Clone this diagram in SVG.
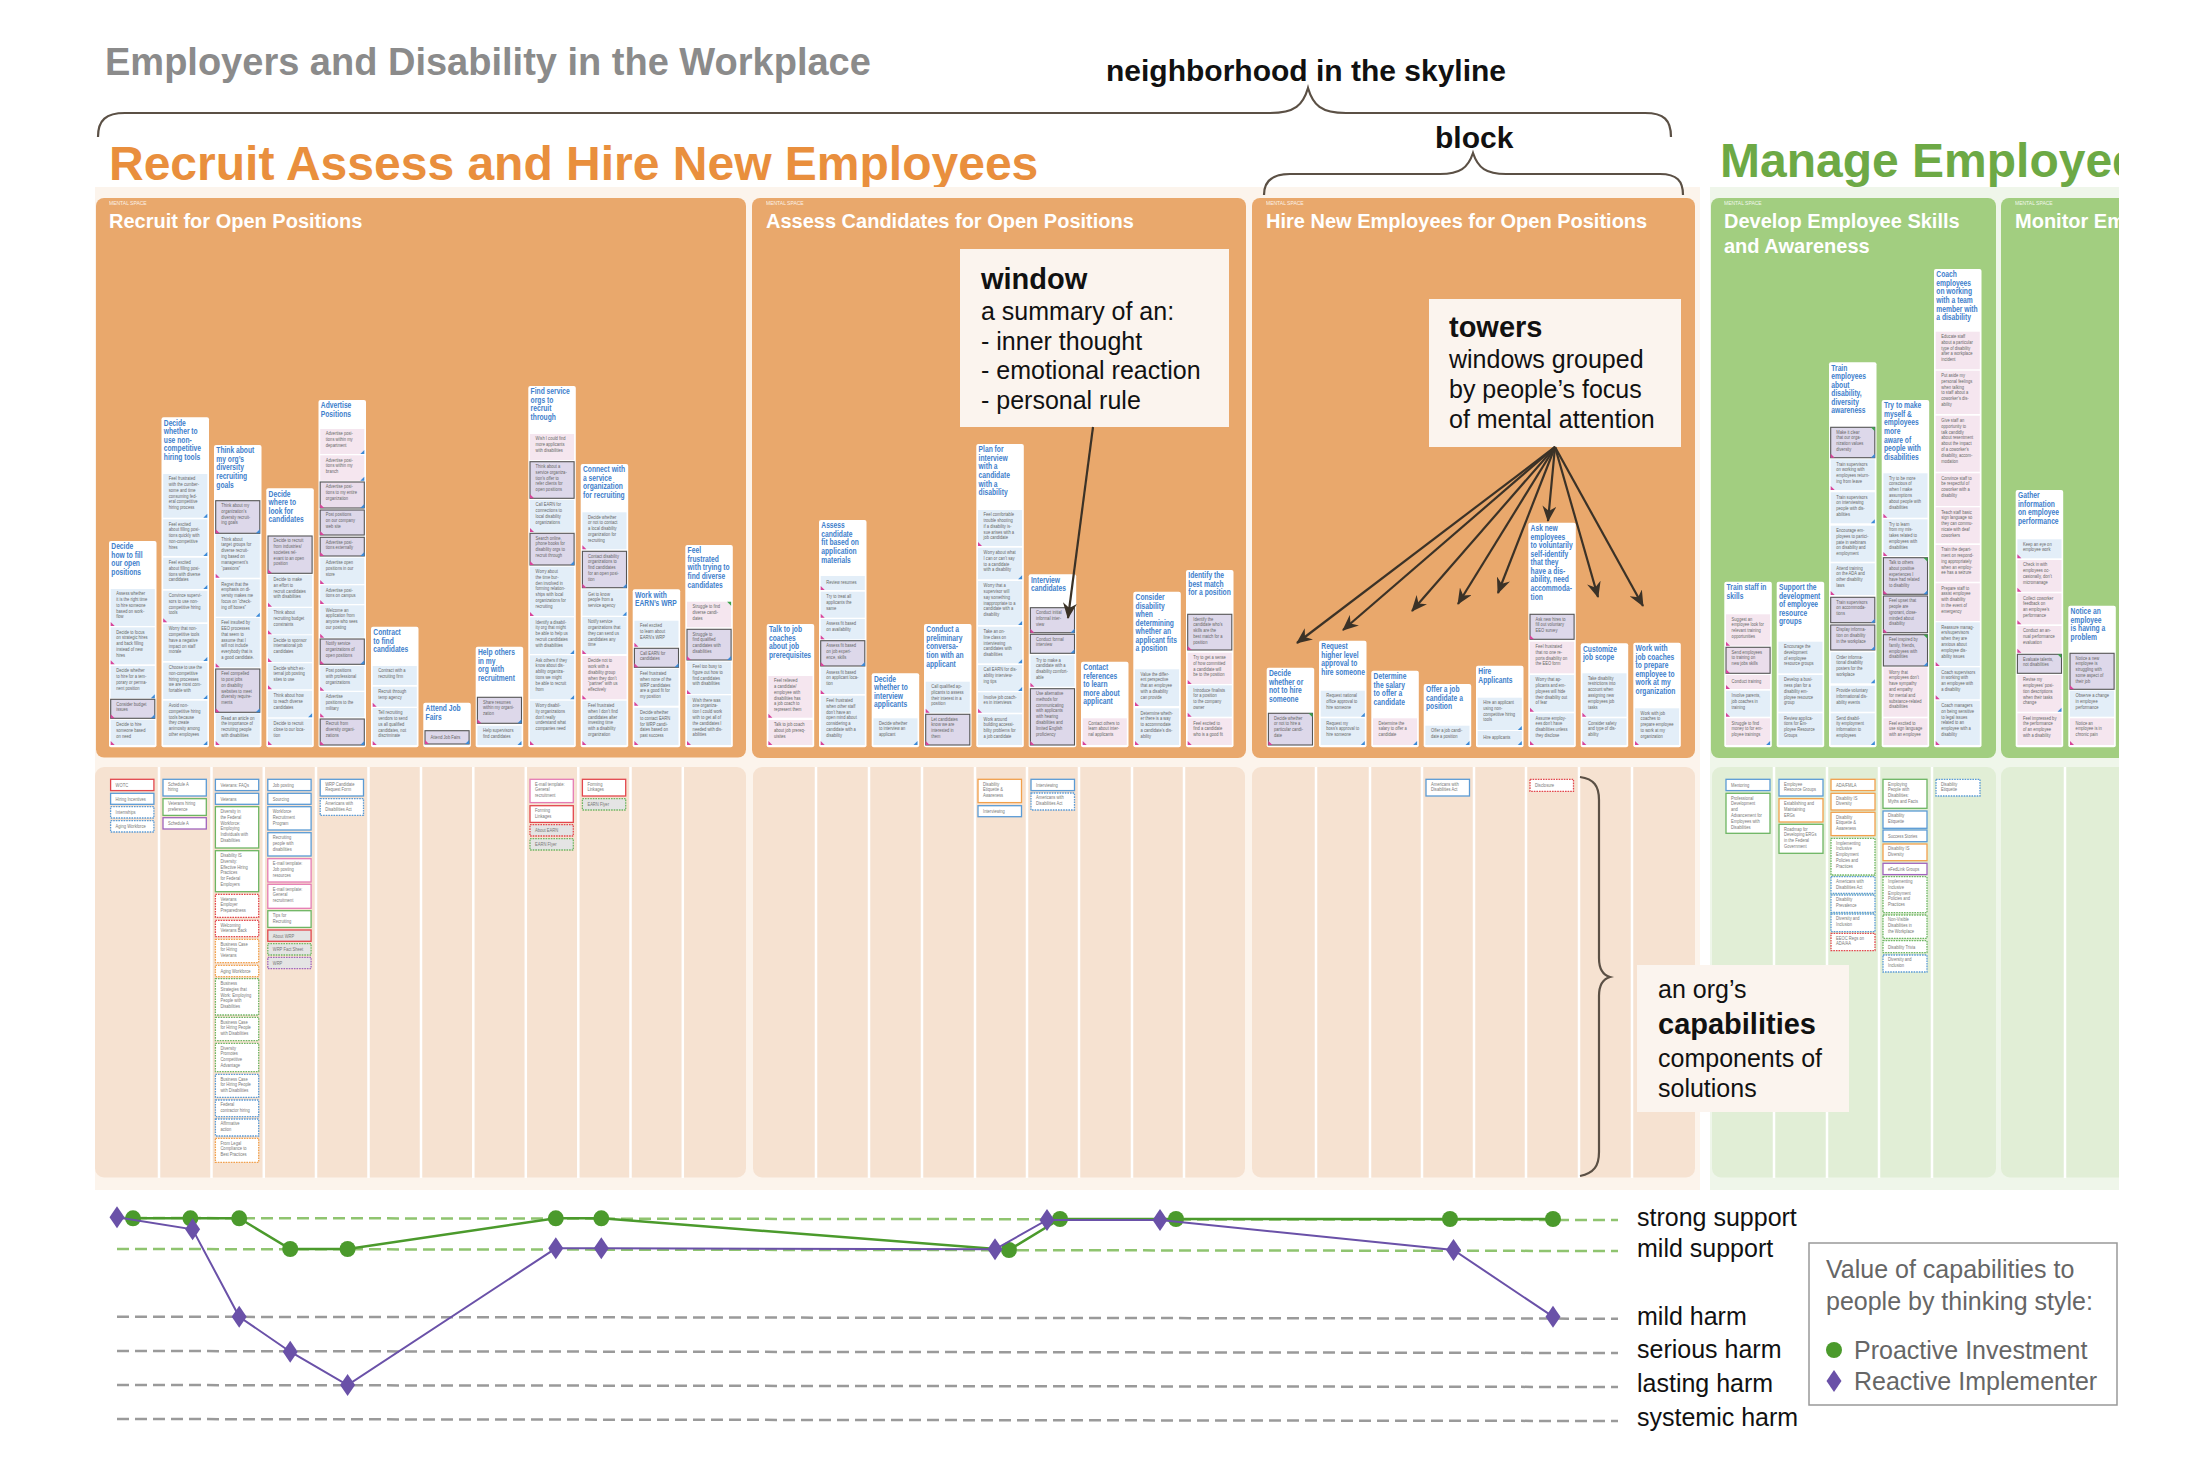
<svg xmlns="http://www.w3.org/2000/svg" xmlns:xlink="http://www.w3.org/1999/xlink" width="2194" height="1457" viewBox="0 0 2194 1457">
<style>
text{font-family:"Liberation Sans",Arial,sans-serif}
.ttl{font-weight:bold}
.ms{font-size:5px;fill:#fff;opacity:.85}
.mst{font-size:20px;font-weight:bold;fill:#fff}
.card{fill:#fff}
.th{font-size:8.6px;font-weight:bold;fill:#3E80CC}
.wt{font-size:5px;fill:#666}
.ct{font-size:5px;fill:#777}
.wb{fill:#E3EEF8}
.wp{fill:#F5E6EF}
.we{fill:#DDD8EA;stroke:#555;stroke-width:1.1}
.wep{fill:#EADDEB;stroke:#555;stroke-width:1.1}
.cb{fill:#fff;stroke-width:1.3}
.r{stroke:#E2474D}.b{stroke:#5B9BD5}.g{stroke:#6DB563}.pu{stroke:#A064BC}.o{stroke:#F1A04C}.pk{stroke:#E57CB4}
.d{stroke-dasharray:1.6 1}
.gr{fill:#E4E4E4}
.div{stroke:#fff;stroke-width:2.5}
.co{font-size:25px;fill:#111}
.cob{font-size:29px;font-weight:bold;fill:#111}
.lab{font-size:25px;fill:#111}
.leg{font-size:25px;fill:#666}
.arr{stroke:#3B3227;stroke-width:2.2;fill:none;marker-end:url(#ah)}
.brace{stroke:#5B5045;stroke-width:2.2;fill:none}
.gl{stroke:#8FC46F;stroke-width:2.5;stroke-dasharray:12 6;fill:none}
.hl{stroke:#9A9A9A;stroke-width:2.5;stroke-dasharray:12 6;fill:none}
</style>
<defs>
<clipPath id="clip"><rect x="0" y="0" width="2119" height="1457"/></clipPath>
<marker id="ah" viewBox="0 0 16 14" markerWidth="16" markerHeight="14" refX="15" refY="7" orient="auto" markerUnits="userSpaceOnUse"><path d="M0,0 L16,7 L0,14 L5,7 Z" fill="#3B3227"/></marker>
<path id="tp" d="M0,0 V-4 L4,0 Z" fill="#D8449B"/>
<path id="tb" d="M0,0 H-4 L0,-4 Z" fill="#3C8AD8"/>
<path id="tg" d="M0,0 H-4 L0,4 Z" fill="#3BA34A"/>
<path id="dm" d="M0,-11 L7.5,0 L0,11 L-7.5,0 Z" fill="#6A51A8"/>
</defs>
<rect width="2194" height="1457" fill="#fff"/>

<g id="header">
<text class="ttl" x="105" y="75" font-size="38" fill="#8B8B8B">Employers and Disability in the Workplace</text>
<text class="ttl" x="1106" y="81" font-size="30" fill="#111">neighborhood in the skyline</text>
<text class="ttl" x="1435" y="148" font-size="30" fill="#111">block</text>
<text class="ttl" x="109" y="180" font-size="48" fill="#E98F3D">Recruit Assess and Hire New Employees</text>
</g>

<g clip-path="url(#clip)">
<g id="backgrounds">
<rect x="95" y="187" width="1605" height="1003" fill="#FCF4EC"/>
<rect x="1710" y="187" width="430" height="1003" fill="#EFF6EA"/>
<rect x="96" y="198" width="650" height="559.5" rx="8" fill="#E9A86C"/>
<rect x="752" y="198" width="494" height="560" rx="8" fill="#E9A86C"/>
<rect x="1252" y="198" width="443" height="560" rx="8" fill="#E9A86C"/>
<rect x="1711" y="198" width="285" height="560" rx="8" fill="#A2CE80"/>
<rect x="2001" y="198" width="140" height="560" rx="8" fill="#A2CE80"/>
<rect x="95" y="767" width="651" height="410.5" rx="9" fill="#F6E2D1"/>
<rect x="753" y="767" width="492" height="410.5" rx="9" fill="#F6E2D1"/>
<rect x="1252" y="767" width="443" height="410.5" rx="9" fill="#F6E2D1"/>
<rect x="1712" y="767" width="284" height="410.5" rx="9" fill="#E1EED6"/>
<rect x="2001" y="767" width="140" height="410.5" rx="9" fill="#E1EED6"/>
<path class="div" d="M159,767V1178M211.5,767V1178M263.8,767V1178M316,767V1178M368.5,767V1178M421,767V1178M473.3,767V1178M525.8,767V1178M578.3,767V1178M630.5,767V1178M682.8,767V1178M816,767V1178M869,767V1178M922,767V1178M975,767V1178M1027,767V1178M1079,767V1178M1132,767V1178M1184,767V1178M1316,767V1178M1370,767V1178M1422,767V1178M1474,767V1178M1526,767V1178M1579,767V1178M1632,767V1178M1774,767V1178M1827,767V1178M1879,767V1178M1932,767V1178M2065,767V1178"/>
<text class="ttl" x="1720" y="177" font-size="48" fill="#6DA945">Manage Employees</text>
</g>

<g id="mental-space-titles">
<text class="ms" x="109" y="205">MENTAL SPACE</text>
<text class="mst" x="109" y="228">Recruit for Open Positions</text>
<text class="ms" x="766" y="205">MENTAL SPACE</text>
<text class="mst" x="766" y="228">Assess Candidates for Open Positions</text>
<text class="ms" x="1266" y="205">MENTAL SPACE</text>
<text class="mst" x="1266" y="228">Hire New Employees for Open Positions</text>
<text class="ms" x="1724" y="205">MENTAL SPACE</text>
<text class="mst" x="1724" y="228">Develop Employee Skills</text>
<text class="mst" x="1724" y="253">and Awareness</text>
<text class="ms" x="2015" y="205">MENTAL SPACE</text>
<text class="mst" x="2015" y="228">Monitor Employee</text>
</g>

<!-- RECRUIT TOWERS -->
<g id="tower-r01">
<rect class="card" x="109" y="541" width="47.5" height="206.3" rx="2"/>
<text class="th" transform="translate(111.3,549.3) scale(.78,1)"><tspan x="0">Decide</tspan><tspan x="0" dy="8.57">how to fill</tspan><tspan x="0" dy="8.57">our open</tspan><tspan x="0" dy="8.57">positions</tspan></text>
<rect class="wb" x="110.7" y="589" width="44.1" height="37"/><text class="wt" transform="translate(116.3,595.3) scale(.82,1)"><tspan x="0">Assess whether</tspan><tspan x="0" dy="5.8">it is the right time</tspan><tspan x="0" dy="5.8">to hire someone</tspan><tspan x="0" dy="5.8">based on work-</tspan><tspan x="0" dy="5.8">flow</tspan></text><use href="#tp" x="110.7" y="626"/>
<rect class="wb" x="110.7" y="627.3" width="44.1" height="37"/><text class="wt" transform="translate(116.3,633.6) scale(.82,1)"><tspan x="0">Decide to focus</tspan><tspan x="0" dy="5.8">on strategic hires</tspan><tspan x="0" dy="5.8">and back filling</tspan><tspan x="0" dy="5.8">instead of new</tspan><tspan x="0" dy="5.8">hires</tspan></text><use href="#tp" x="110.7" y="664.3"/>
<rect class="wb" x="110.7" y="666" width="44.1" height="32.3"/><text class="wt" transform="translate(116.3,672.3) scale(.82,1)"><tspan x="0">Decide whether</tspan><tspan x="0" dy="5.8">to hire for a tem-</tspan><tspan x="0" dy="5.8">porary or perma-</tspan><tspan x="0" dy="5.8">nent position</tspan></text><use href="#tb" x="154.8" y="698.3"/>
<rect class="we" x="110.7" y="699.3" width="44.1" height="19"/><text class="wt" transform="translate(116.3,705.6) scale(.82,1)"><tspan x="0">Consider budget</tspan><tspan x="0" dy="5.8">issues</tspan></text><use href="#tp" x="110.7" y="718.3"/><use href="#tb" x="154.8" y="718.3"/>
<rect class="wb" x="110.7" y="720" width="44.1" height="25"/><text class="wt" transform="translate(116.3,726.3) scale(.82,1)"><tspan x="0">Decide to hire</tspan><tspan x="0" dy="5.8">someone based</tspan><tspan x="0" dy="5.8">on need</tspan></text><use href="#tp" x="110.7" y="745"/>
</g>

<g id="tower-r02">
<rect class="card" x="161.5" y="417.3" width="47.5" height="330" rx="2"/>
<text class="th" transform="translate(163.8,425.6) scale(.78,1)"><tspan x="0">Decide</tspan><tspan x="0" dy="8.57">whether to</tspan><tspan x="0" dy="8.57">use non-</tspan><tspan x="0" dy="8.57">competitive</tspan><tspan x="0" dy="8.57">hiring tools</tspan></text>
<rect class="wb" x="163.2" y="474" width="44.1" height="43.7"/><text class="wt" transform="translate(168.8,480.3) scale(.82,1)"><tspan x="0">Feel frustrated</tspan><tspan x="0" dy="5.8">with the cumber-</tspan><tspan x="0" dy="5.8">some and time</tspan><tspan x="0" dy="5.8">consuming fed-</tspan><tspan x="0" dy="5.8">eral competitive</tspan><tspan x="0" dy="5.8">hiring process</tspan></text><use href="#tb" x="207.3" y="517.7"/>
<rect class="wb" x="163.2" y="519.3" width="44.1" height="36.7"/><text class="wt" transform="translate(168.8,525.6) scale(.82,1)"><tspan x="0">Feel excited</tspan><tspan x="0" dy="5.8">about filling posi-</tspan><tspan x="0" dy="5.8">tions quickly with</tspan><tspan x="0" dy="5.8">non-competitive</tspan><tspan x="0" dy="5.8">hires</tspan></text><use href="#tb" x="207.3" y="556"/>
<rect class="wb" x="163.2" y="557.7" width="44.1" height="31.3"/><text class="wt" transform="translate(168.8,564) scale(.82,1)"><tspan x="0">Feel excited</tspan><tspan x="0" dy="5.8">about filling posi-</tspan><tspan x="0" dy="5.8">tions with diverse</tspan><tspan x="0" dy="5.8">candidates</tspan></text><use href="#tb" x="207.3" y="589"/>
<rect class="wb" x="163.2" y="590.7" width="44.1" height="31.6"/><text class="wt" transform="translate(168.8,597) scale(.82,1)"><tspan x="0">Convince supervi-</tspan><tspan x="0" dy="5.8">sors to use non-</tspan><tspan x="0" dy="5.8">competitive hiring</tspan><tspan x="0" dy="5.8">tools</tspan></text><use href="#tp" x="163.2" y="622.3"/>
<rect class="wb" x="163.2" y="624" width="44.1" height="37"/><text class="wt" transform="translate(168.8,630.3) scale(.82,1)"><tspan x="0">Worry that non-</tspan><tspan x="0" dy="5.8">competitive tools</tspan><tspan x="0" dy="5.8">have a negative</tspan><tspan x="0" dy="5.8">impact on staff</tspan><tspan x="0" dy="5.8">morale</tspan></text><use href="#tb" x="207.3" y="661"/>
<rect class="wb" x="163.2" y="662.7" width="44.1" height="36.3"/><text class="wt" transform="translate(168.8,669) scale(.82,1)"><tspan x="0">Choose to use the</tspan><tspan x="0" dy="5.8">non-competitive</tspan><tspan x="0" dy="5.8">hiring processes</tspan><tspan x="0" dy="5.8">we are most com-</tspan><tspan x="0" dy="5.8">fortable with</tspan></text><use href="#tb" x="207.3" y="699"/>
<rect class="wb" x="163.2" y="700.7" width="44.1" height="44.3"/><text class="wt" transform="translate(168.8,707) scale(.82,1)"><tspan x="0">Avoid non-</tspan><tspan x="0" dy="5.8">competitive hiring</tspan><tspan x="0" dy="5.8">tools because</tspan><tspan x="0" dy="5.8">they create</tspan><tspan x="0" dy="5.8">animosity among</tspan><tspan x="0" dy="5.8">other employees</tspan></text><use href="#tb" x="207.3" y="745"/>
</g>

<g id="tower-r03">
<rect class="card" x="214" y="445" width="47.5" height="302.3" rx="2"/>
<text class="th" transform="translate(216.3,453.3) scale(.78,1)"><tspan x="0">Think about</tspan><tspan x="0" dy="8.57">my org’s</tspan><tspan x="0" dy="8.57">diversity</tspan><tspan x="0" dy="8.57">recruiting</tspan><tspan x="0" dy="8.57">goals</tspan></text>
<rect class="we" x="215.7" y="500.7" width="44.1" height="32.6"/><text class="wt" transform="translate(221.3,507) scale(.82,1)"><tspan x="0">Think about my</tspan><tspan x="0" dy="5.8">organization’s</tspan><tspan x="0" dy="5.8">diversity recruit-</tspan><tspan x="0" dy="5.8">ing goals</tspan></text><use href="#tp" x="215.7" y="533.3"/><use href="#tb" x="259.8" y="533.3"/>
<rect class="wb" x="215.7" y="534.3" width="44.1" height="43.4"/><text class="wt" transform="translate(221.3,540.6) scale(.82,1)"><tspan x="0">Think about</tspan><tspan x="0" dy="5.8">target groups for</tspan><tspan x="0" dy="5.8">diverse recruit-</tspan><tspan x="0" dy="5.8">ing based on</tspan><tspan x="0" dy="5.8">management’s</tspan><tspan x="0" dy="5.8">“passions”</tspan></text><use href="#tp" x="215.7" y="577.7"/>
<rect class="wb" x="215.7" y="579.3" width="44.1" height="37.4"/><text class="wt" transform="translate(221.3,585.6) scale(.82,1)"><tspan x="0">Regret that the</tspan><tspan x="0" dy="5.8">emphasis on di-</tspan><tspan x="0" dy="5.8">versity makes me</tspan><tspan x="0" dy="5.8">focus on “check-</tspan><tspan x="0" dy="5.8">ing off boxes”</tspan></text><use href="#tb" x="259.8" y="616.7"/>
<rect class="wb" x="215.7" y="618" width="44.1" height="49.3"/><text class="wt" transform="translate(221.3,624.3) scale(.82,1)"><tspan x="0">Feel insulted by</tspan><tspan x="0" dy="5.8">EEO processes</tspan><tspan x="0" dy="5.8">that seem to</tspan><tspan x="0" dy="5.8">assume that I</tspan><tspan x="0" dy="5.8">will not include</tspan><tspan x="0" dy="5.8">everybody that is</tspan><tspan x="0" dy="5.8">a good candidate.</tspan></text><use href="#tp" x="215.7" y="667.3"/>
<rect class="we" x="215.7" y="669" width="44.1" height="43.3"/><text class="wt" transform="translate(221.3,675.3) scale(.82,1)"><tspan x="0">Feel compelled</tspan><tspan x="0" dy="5.8">to post jobs</tspan><tspan x="0" dy="5.8">on disability</tspan><tspan x="0" dy="5.8">websites to meet</tspan><tspan x="0" dy="5.8">diversity require-</tspan><tspan x="0" dy="5.8">ments</tspan></text><use href="#tp" x="215.7" y="712.3"/><use href="#tb" x="259.8" y="712.3"/>
<rect class="wb" x="215.7" y="713.3" width="44.1" height="31.7"/><text class="wt" transform="translate(221.3,719.6) scale(.82,1)"><tspan x="0">Read an article on</tspan><tspan x="0" dy="5.8">the importance of</tspan><tspan x="0" dy="5.8">recruiting people</tspan><tspan x="0" dy="5.8">with disabilities</tspan></text><use href="#tp" x="215.7" y="745"/>
</g>

<g id="tower-r04">
<rect class="card" x="266.3" y="488.3" width="47.5" height="259" rx="2"/>
<text class="th" transform="translate(268.6,496.6) scale(.78,1)"><tspan x="0">Decide</tspan><tspan x="0" dy="8.57">where to</tspan><tspan x="0" dy="8.57">look for</tspan><tspan x="0" dy="8.57">candidates</tspan></text>
<rect class="we" x="268" y="536" width="44.1" height="37.3"/><text class="wt" transform="translate(273.6,542.3) scale(.82,1)"><tspan x="0">Decide to recruit</tspan><tspan x="0" dy="5.8">from industries/</tspan><tspan x="0" dy="5.8">societies rel-</tspan><tspan x="0" dy="5.8">evant to an open</tspan><tspan x="0" dy="5.8">position</tspan></text><use href="#tp" x="268" y="573.3"/>
<rect class="wb" x="268" y="574.7" width="44.1" height="32"/><text class="wt" transform="translate(273.6,581) scale(.82,1)"><tspan x="0">Decide to make</tspan><tspan x="0" dy="5.8">an effort to</tspan><tspan x="0" dy="5.8">recruit candidates</tspan><tspan x="0" dy="5.8">with disabilities</tspan></text><use href="#tp" x="268" y="606.7"/>
<rect class="wb" x="268" y="608" width="44.1" height="26.3"/><text class="wt" transform="translate(273.6,614.3) scale(.82,1)"><tspan x="0">Think about</tspan><tspan x="0" dy="5.8">recruiting budget</tspan><tspan x="0" dy="5.8">constraints</tspan></text><use href="#tp" x="268" y="634.3"/>
<rect class="wb" x="268" y="635.3" width="44.1" height="26.7"/><text class="wt" transform="translate(273.6,641.6) scale(.82,1)"><tspan x="0">Decide to sponsor</tspan><tspan x="0" dy="5.8">international job</tspan><tspan x="0" dy="5.8">candidates</tspan></text><use href="#tp" x="268" y="662"/>
<rect class="wb" x="268" y="663.3" width="44.1" height="26"/><text class="wt" transform="translate(273.6,669.6) scale(.82,1)"><tspan x="0">Decide which ex-</tspan><tspan x="0" dy="5.8">ternal job posting</tspan><tspan x="0" dy="5.8">sites to use</tspan></text><use href="#tp" x="268" y="689.3"/>
<rect class="wb" x="268" y="690.7" width="44.1" height="26.6"/><text class="wt" transform="translate(273.6,697) scale(.82,1)"><tspan x="0">Think about how</tspan><tspan x="0" dy="5.8">to reach diverse</tspan><tspan x="0" dy="5.8">candidates</tspan></text><use href="#tb" x="312.1" y="717.3"/>
<rect class="wb" x="268" y="718.7" width="44.1" height="26.3"/><text class="wt" transform="translate(273.6,725) scale(.82,1)"><tspan x="0">Decide to recruit</tspan><tspan x="0" dy="5.8">close to our loca-</tspan><tspan x="0" dy="5.8">tion</tspan></text><use href="#tp" x="268" y="745"/>
</g>

<g id="tower-r05">
<rect class="card" x="318.5" y="400" width="47.5" height="347.3" rx="2"/>
<text class="th" transform="translate(320.8,408.3) scale(.78,1)"><tspan x="0">Advertise</tspan><tspan x="0" dy="8.57">Positions</tspan></text>
<rect class="wp" x="320.2" y="429" width="44.1" height="25"/><text class="wt" transform="translate(325.8,435.3) scale(.82,1)"><tspan x="0">Advertise posi-</tspan><tspan x="0" dy="5.8">tions within my</tspan><tspan x="0" dy="5.8">department</tspan></text><use href="#tb" x="364.3" y="454"/>
<rect class="wp" x="320.2" y="455.3" width="44.1" height="25.4"/><text class="wt" transform="translate(325.8,461.6) scale(.82,1)"><tspan x="0">Advertise posi-</tspan><tspan x="0" dy="5.8">tions within my</tspan><tspan x="0" dy="5.8">branch</tspan></text><use href="#tb" x="364.3" y="480.7"/>
<rect class="wep" x="320.2" y="482" width="44.1" height="26"/><text class="wt" transform="translate(325.8,488.3) scale(.82,1)"><tspan x="0">Advertise posi-</tspan><tspan x="0" dy="5.8">tions to my entire</tspan><tspan x="0" dy="5.8">organization</tspan></text><use href="#tp" x="320.2" y="508"/><use href="#tb" x="364.3" y="508"/>
<rect class="we" x="320.2" y="510" width="44.1" height="25"/><text class="wt" transform="translate(325.8,516.3) scale(.82,1)"><tspan x="0">Post positions</tspan><tspan x="0" dy="5.8">on our company</tspan><tspan x="0" dy="5.8">web site</tspan></text><use href="#tp" x="320.2" y="535"/>
<rect class="we" x="320.2" y="537.3" width="44.1" height="18.7"/><text class="wt" transform="translate(325.8,543.6) scale(.82,1)"><tspan x="0">Advertise posi-</tspan><tspan x="0" dy="5.8">tions externally</tspan></text><use href="#tp" x="320.2" y="556"/><use href="#tb" x="364.3" y="556"/>
<rect class="wb" x="320.2" y="557.7" width="44.1" height="26.3"/><text class="wt" transform="translate(325.8,564) scale(.82,1)"><tspan x="0">Advertise open</tspan><tspan x="0" dy="5.8">positions in our</tspan><tspan x="0" dy="5.8">store</tspan></text><use href="#tp" x="320.2" y="584"/>
<rect class="wb" x="320.2" y="585.3" width="44.1" height="18.7"/><text class="wt" transform="translate(325.8,591.6) scale(.82,1)"><tspan x="0">Advertise posi-</tspan><tspan x="0" dy="5.8">tions on campus</tspan></text><use href="#tp" x="320.2" y="604"/>
<rect class="wb" x="320.2" y="605.3" width="44.1" height="32.4"/><text class="wt" transform="translate(325.8,611.6) scale(.82,1)"><tspan x="0">Welcome an</tspan><tspan x="0" dy="5.8">application from</tspan><tspan x="0" dy="5.8">anyone who sees</tspan><tspan x="0" dy="5.8">our posting</tspan></text><use href="#tp" x="320.2" y="637.7"/>
<rect class="we" x="320.2" y="639" width="44.1" height="25.3"/><text class="wt" transform="translate(325.8,645.3) scale(.82,1)"><tspan x="0">Notify service</tspan><tspan x="0" dy="5.8">organizations of</tspan><tspan x="0" dy="5.8">open positions</tspan></text><use href="#tp" x="320.2" y="664.3"/><use href="#tb" x="364.3" y="664.3"/>
<rect class="wb" x="320.2" y="666" width="44.1" height="24.7"/><text class="wt" transform="translate(325.8,672.3) scale(.82,1)"><tspan x="0">Post positions</tspan><tspan x="0" dy="5.8">with professional</tspan><tspan x="0" dy="5.8">organizations</tspan></text><use href="#tp" x="320.2" y="690.7"/>
<rect class="wb" x="320.2" y="692" width="44.1" height="25.3"/><text class="wt" transform="translate(325.8,698.3) scale(.82,1)"><tspan x="0">Advertise</tspan><tspan x="0" dy="5.8">positions to the</tspan><tspan x="0" dy="5.8">military</tspan></text><use href="#tp" x="320.2" y="717.3"/>
<rect class="we" x="320.2" y="719" width="44.1" height="26"/><text class="wt" transform="translate(325.8,725.3) scale(.82,1)"><tspan x="0">Recruit from</tspan><tspan x="0" dy="5.8">diversity organi-</tspan><tspan x="0" dy="5.8">zations</tspan></text><use href="#tp" x="320.2" y="745"/><use href="#tb" x="364.3" y="745"/>
</g>

<g id="tower-r06">
<rect class="card" x="371" y="626.7" width="47.5" height="120.6" rx="2"/>
<text class="th" transform="translate(373.3,635) scale(.78,1)"><tspan x="0">Contract</tspan><tspan x="0" dy="8.57">to find</tspan><tspan x="0" dy="8.57">candidates</tspan></text>
<rect class="wb" x="372.7" y="666" width="44.1" height="19"/><text class="wt" transform="translate(378.3,672.3) scale(.82,1)"><tspan x="0">Contract with a</tspan><tspan x="0" dy="5.8">recruiting firm</tspan></text>
<rect class="wb" x="372.7" y="686.7" width="44.1" height="20"/><text class="wt" transform="translate(378.3,693) scale(.82,1)"><tspan x="0">Recruit through</tspan><tspan x="0" dy="5.8">temp agency</tspan></text><use href="#tp" x="372.7" y="706.7"/>
<rect class="wb" x="372.7" y="708" width="44.1" height="37"/><text class="wt" transform="translate(378.3,714.3) scale(.82,1)"><tspan x="0">Tell recruiting</tspan><tspan x="0" dy="5.8">vendors to send</tspan><tspan x="0" dy="5.8">us all qualified</tspan><tspan x="0" dy="5.8">candidates, not</tspan><tspan x="0" dy="5.8">discriminate</tspan></text><use href="#tp" x="372.7" y="745"/>
</g>

<g id="tower-r07">
<rect class="card" x="423.3" y="702.7" width="47.5" height="44.6" rx="2"/>
<text class="th" transform="translate(425.6,711) scale(.78,1)"><tspan x="0">Attend Job</tspan><tspan x="0" dy="8.57">Fairs</tspan></text>
<rect class="we" x="425" y="730.7" width="44.1" height="13.3"/><text class="wt" transform="translate(430.6,738.8) scale(.82,1)">Attend Job Fairs</text><use href="#tp" x="425" y="744"/><use href="#tb" x="469.1" y="744"/>
</g>

<g id="tower-r08">
<rect class="card" x="475.7" y="646.7" width="47.5" height="100.6" rx="2"/>
<text class="th" transform="translate(478,655) scale(.78,1)"><tspan x="0">Help others</tspan><tspan x="0" dy="8.57">in my</tspan><tspan x="0" dy="8.57">org with</tspan><tspan x="0" dy="8.57">recruitment</tspan></text>
<rect class="we" x="477.4" y="697.3" width="44.1" height="26"/><text class="wt" transform="translate(483,703.6) scale(.82,1)"><tspan x="0">Share resumes</tspan><tspan x="0" dy="5.8">within my organi-</tspan><tspan x="0" dy="5.8">zation</tspan></text><use href="#tp" x="477.4" y="723.3"/><use href="#tb" x="521.5" y="723.3"/>
<rect class="wb" x="477.4" y="725.7" width="44.1" height="19.3"/><text class="wt" transform="translate(483,732) scale(.82,1)"><tspan x="0">Help supervisors</tspan><tspan x="0" dy="5.8">find candidates</tspan></text><use href="#tb" x="521.5" y="745"/>
</g>

<g id="tower-r09">
<rect class="card" x="528.3" y="386" width="47.5" height="361.3" rx="2"/>
<text class="th" transform="translate(530.6,394.3) scale(.78,1)"><tspan x="0">Find service</tspan><tspan x="0" dy="8.57">orgs to</tspan><tspan x="0" dy="8.57">recruit</tspan><tspan x="0" dy="8.57">through</tspan></text>
<rect class="wp" x="530" y="434" width="44.1" height="26"/><text class="wt" transform="translate(535.6,440.3) scale(.82,1)"><tspan x="0">Wish I could find</tspan><tspan x="0" dy="5.8">more applicants</tspan><tspan x="0" dy="5.8">with disabilities</tspan></text>
<rect class="we" x="530" y="461.7" width="44.1" height="36.6"/><text class="wt" transform="translate(535.6,468) scale(.82,1)"><tspan x="0">Think about a</tspan><tspan x="0" dy="5.8">service organiza-</tspan><tspan x="0" dy="5.8">tion’s offer to</tspan><tspan x="0" dy="5.8">refer clients for</tspan><tspan x="0" dy="5.8">open positions</tspan></text><use href="#tp" x="530" y="498.3"/>
<rect class="wb" x="530" y="500" width="44.1" height="32"/><text class="wt" transform="translate(535.6,506.3) scale(.82,1)"><tspan x="0">Call EARN for</tspan><tspan x="0" dy="5.8">connections to</tspan><tspan x="0" dy="5.8">local disability</tspan><tspan x="0" dy="5.8">organizations</tspan></text><use href="#tp" x="530" y="532"/>
<rect class="we" x="530" y="533.3" width="44.1" height="31.7"/><text class="wt" transform="translate(535.6,539.6) scale(.82,1)"><tspan x="0">Search online,</tspan><tspan x="0" dy="5.8">phone books for</tspan><tspan x="0" dy="5.8">disability orgs to</tspan><tspan x="0" dy="5.8">recruit through</tspan></text><use href="#tp" x="530" y="565"/><use href="#tb" x="574.1" y="565"/>
<rect class="wb" x="530" y="566.7" width="44.1" height="49.3"/><text class="wt" transform="translate(535.6,573) scale(.82,1)"><tspan x="0">Worry about</tspan><tspan x="0" dy="5.8">the time bur-</tspan><tspan x="0" dy="5.8">den involved in</tspan><tspan x="0" dy="5.8">forming relation-</tspan><tspan x="0" dy="5.8">ships with local</tspan><tspan x="0" dy="5.8">organizations for</tspan><tspan x="0" dy="5.8">recruiting</tspan></text><use href="#tp" x="530" y="616"/>
<rect class="wb" x="530" y="617.3" width="44.1" height="36.7"/><text class="wt" transform="translate(535.6,623.6) scale(.82,1)"><tspan x="0">Identify a disabil-</tspan><tspan x="0" dy="5.8">ity org that might</tspan><tspan x="0" dy="5.8">be able to help us</tspan><tspan x="0" dy="5.8">recruit candidates</tspan><tspan x="0" dy="5.8">with disabilities</tspan></text><use href="#tb" x="574.1" y="654"/>
<rect class="wb" x="530" y="655.3" width="44.1" height="44"/><text class="wt" transform="translate(535.6,661.6) scale(.82,1)"><tspan x="0">Ask others if they</tspan><tspan x="0" dy="5.8">know about dis-</tspan><tspan x="0" dy="5.8">ability organiza-</tspan><tspan x="0" dy="5.8">tions we might</tspan><tspan x="0" dy="5.8">be able to recruit</tspan><tspan x="0" dy="5.8">from</tspan></text><use href="#tb" x="574.1" y="699.3"/>
<rect class="wb" x="530" y="700.7" width="44.1" height="44.3"/><text class="wt" transform="translate(535.6,707) scale(.82,1)"><tspan x="0">Worry disabil-</tspan><tspan x="0" dy="5.8">ity organizations</tspan><tspan x="0" dy="5.8">don’t really</tspan><tspan x="0" dy="5.8">understand what</tspan><tspan x="0" dy="5.8">companies need</tspan></text><use href="#tp" x="530" y="745"/>
</g>

<g id="tower-r10">
<rect class="card" x="580.7" y="464" width="47.5" height="283.3" rx="2"/>
<text class="th" transform="translate(583,472.3) scale(.78,1)"><tspan x="0">Connect with</tspan><tspan x="0" dy="8.57">a service</tspan><tspan x="0" dy="8.57">organization</tspan><tspan x="0" dy="8.57">for recruiting</tspan></text>
<rect class="wb" x="582.4" y="512.3" width="44.1" height="37"/><text class="wt" transform="translate(588,518.6) scale(.82,1)"><tspan x="0">Decide whether</tspan><tspan x="0" dy="5.8">or not to contact</tspan><tspan x="0" dy="5.8">a local disability</tspan><tspan x="0" dy="5.8">organization for</tspan><tspan x="0" dy="5.8">recruiting</tspan></text><use href="#tp" x="582.4" y="549.3"/>
<rect class="we" x="582.4" y="551.3" width="44.1" height="36.4"/><text class="wt" transform="translate(588,557.6) scale(.82,1)"><tspan x="0">Contact disability</tspan><tspan x="0" dy="5.8">organizations to</tspan><tspan x="0" dy="5.8">find candidates</tspan><tspan x="0" dy="5.8">for an open posi-</tspan><tspan x="0" dy="5.8">tion</tspan></text><use href="#tp" x="582.4" y="587.7"/><use href="#tb" x="626.5" y="587.7"/>
<rect class="wb" x="582.4" y="589.3" width="44.1" height="26.4"/><text class="wt" transform="translate(588,595.6) scale(.82,1)"><tspan x="0">Get to know</tspan><tspan x="0" dy="5.8">people from a</tspan><tspan x="0" dy="5.8">service agency</tspan></text><use href="#tb" x="626.5" y="615.7"/>
<rect class="wb" x="582.4" y="617" width="44.1" height="37"/><text class="wt" transform="translate(588,623.3) scale(.82,1)"><tspan x="0">Notify service</tspan><tspan x="0" dy="5.8">organizations that</tspan><tspan x="0" dy="5.8">they can send us</tspan><tspan x="0" dy="5.8">candidates any</tspan><tspan x="0" dy="5.8">time</tspan></text><use href="#tp" x="582.4" y="654"/>
<rect class="wp" x="582.4" y="656" width="44.1" height="43.3"/><text class="wt" transform="translate(588,662.3) scale(.82,1)"><tspan x="0">Decide not to</tspan><tspan x="0" dy="5.8">work with a</tspan><tspan x="0" dy="5.8">disability group</tspan><tspan x="0" dy="5.8">when they don’t</tspan><tspan x="0" dy="5.8">“partner” with us</tspan><tspan x="0" dy="5.8">effectively</tspan></text><use href="#tp" x="582.4" y="699.3"/>
<rect class="wb" x="582.4" y="700.7" width="44.1" height="44.3"/><text class="wt" transform="translate(588,707) scale(.82,1)"><tspan x="0">Feel frustrated</tspan><tspan x="0" dy="5.8">when I don’t find</tspan><tspan x="0" dy="5.8">candidates after</tspan><tspan x="0" dy="5.8">investing time</tspan><tspan x="0" dy="5.8">with a disability</tspan><tspan x="0" dy="5.8">organization</tspan></text><use href="#tp" x="582.4" y="745"/>
</g>

<g id="tower-r11">
<rect class="card" x="632.7" y="589.3" width="47.5" height="158" rx="2"/>
<text class="th" transform="translate(635,597.6) scale(.78,1)"><tspan x="0">Work with</tspan><tspan x="0" dy="8.57">EARN’s WRP</tspan></text>
<rect class="wb" x="634.4" y="620.7" width="44.1" height="26"/><text class="wt" transform="translate(640,627) scale(.82,1)"><tspan x="0">Feel excited</tspan><tspan x="0" dy="5.8">to learn about</tspan><tspan x="0" dy="5.8">EARN’s WRP</tspan></text><use href="#tp" x="634.4" y="646.7"/>
<rect class="we" x="634.4" y="648.3" width="44.1" height="19"/><text class="wt" transform="translate(640,654.6) scale(.82,1)"><tspan x="0">Call EARN for</tspan><tspan x="0" dy="5.8">candidates</tspan></text><use href="#tp" x="634.4" y="667.3"/><use href="#tb" x="678.5" y="667.3"/>
<rect class="wb" x="634.4" y="668.7" width="44.1" height="37"/><text class="wt" transform="translate(640,675) scale(.82,1)"><tspan x="0">Feel frustrated</tspan><tspan x="0" dy="5.8">when none of the</tspan><tspan x="0" dy="5.8">WRP candidates</tspan><tspan x="0" dy="5.8">are a good fit for</tspan><tspan x="0" dy="5.8">my position</tspan></text><use href="#tp" x="634.4" y="705.7"/>
<rect class="wb" x="634.4" y="707.7" width="44.1" height="37.3"/><text class="wt" transform="translate(640,714) scale(.82,1)"><tspan x="0">Decide whether</tspan><tspan x="0" dy="5.8">to contact EARN</tspan><tspan x="0" dy="5.8">for WRP candi-</tspan><tspan x="0" dy="5.8">dates based on</tspan><tspan x="0" dy="5.8">past success</tspan></text><use href="#tp" x="634.4" y="745"/>
</g>

<g id="tower-r12">
<rect class="card" x="685.3" y="545" width="47.5" height="202.3" rx="2"/>
<text class="th" transform="translate(687.6,553.3) scale(.78,1)"><tspan x="0">Feel</tspan><tspan x="0" dy="8.57">frustrated</tspan><tspan x="0" dy="8.57">with trying to</tspan><tspan x="0" dy="8.57">find diverse</tspan><tspan x="0" dy="8.57">candidates</tspan></text>
<rect class="wp" x="687" y="601.7" width="44.1" height="25.6"/><text class="wt" transform="translate(692.6,608) scale(.82,1)"><tspan x="0">Struggle to find</tspan><tspan x="0" dy="5.8">diverse candi-</tspan><tspan x="0" dy="5.8">dates</tspan></text><use href="#tg" x="731.1" y="601.7"/>
<rect class="we" x="687" y="629.3" width="44.1" height="30.7"/><text class="wt" transform="translate(692.6,635.6) scale(.82,1)"><tspan x="0">Struggle to</tspan><tspan x="0" dy="5.8">find qualified</tspan><tspan x="0" dy="5.8">candidates with</tspan><tspan x="0" dy="5.8">disabilities</tspan></text><use href="#tp" x="687" y="660"/><use href="#tb" x="731.1" y="660"/>
<rect class="wb" x="687" y="661.7" width="44.1" height="32.3"/><text class="wt" transform="translate(692.6,668) scale(.82,1)"><tspan x="0">Feel too busy to</tspan><tspan x="0" dy="5.8">figure out how to</tspan><tspan x="0" dy="5.8">find candidates</tspan><tspan x="0" dy="5.8">with disabilities</tspan></text><use href="#tp" x="687" y="694"/>
<rect class="wb" x="687" y="695.3" width="44.1" height="49.7"/><text class="wt" transform="translate(692.6,701.6) scale(.82,1)"><tspan x="0">Wish there was</tspan><tspan x="0" dy="5.8">one organiza-</tspan><tspan x="0" dy="5.8">tion I could work</tspan><tspan x="0" dy="5.8">with to get all of</tspan><tspan x="0" dy="5.8">the candidates I</tspan><tspan x="0" dy="5.8">needed with dis-</tspan><tspan x="0" dy="5.8">abilities</tspan></text><use href="#tp" x="687" y="745"/>
</g>

<!-- ASSESS TOWERS -->
<g id="tower-a01">
<rect class="card" x="766.7" y="624" width="47.5" height="123.3" rx="2"/>
<text class="th" transform="translate(769,632.3) scale(.78,1)"><tspan x="0">Talk to job</tspan><tspan x="0" dy="8.57">coaches</tspan><tspan x="0" dy="8.57">about job</tspan><tspan x="0" dy="8.57">prerequisites</tspan></text>
<rect class="wp" x="768.4" y="676" width="44.1" height="41.7"/><text class="wt" transform="translate(774,682.3) scale(.82,1)"><tspan x="0">Feel relieved</tspan><tspan x="0" dy="5.8">a candidate/</tspan><tspan x="0" dy="5.8">employee with</tspan><tspan x="0" dy="5.8">disabilities has</tspan><tspan x="0" dy="5.8">a job coach to</tspan><tspan x="0" dy="5.8">represent them</tspan></text><use href="#tp" x="768.4" y="717.7"/>
<rect class="wp" x="768.4" y="720" width="44.1" height="25"/><text class="wt" transform="translate(774,726.3) scale(.82,1)"><tspan x="0">Talk to job coach</tspan><tspan x="0" dy="5.8">about job prereq-</tspan><tspan x="0" dy="5.8">uisites</tspan></text><use href="#tp" x="768.4" y="745"/>
</g>

<g id="tower-a02">
<rect class="card" x="819" y="520" width="47.5" height="227.3" rx="2"/>
<text class="th" transform="translate(821.3,528.3) scale(.78,1)"><tspan x="0">Assess</tspan><tspan x="0" dy="8.57">candidate</tspan><tspan x="0" dy="8.57">fit based on</tspan><tspan x="0" dy="8.57">application</tspan><tspan x="0" dy="8.57">materials</tspan></text>
<rect class="wb" x="820.7" y="576" width="44.1" height="14"/><text class="wt" transform="translate(826.3,584.4) scale(.82,1)">Review resumes</text><use href="#tp" x="820.7" y="590"/>
<rect class="wb" x="820.7" y="591.7" width="44.1" height="26"/><text class="wt" transform="translate(826.3,598) scale(.82,1)"><tspan x="0">Try to treat all</tspan><tspan x="0" dy="5.8">applicants the</tspan><tspan x="0" dy="5.8">same</tspan></text><use href="#tp" x="820.7" y="617.7"/>
<rect class="wb" x="820.7" y="619" width="44.1" height="20.3"/><text class="wt" transform="translate(826.3,625.3) scale(.82,1)"><tspan x="0">Assess fit based</tspan><tspan x="0" dy="5.8">on availability</tspan></text><use href="#tp" x="820.7" y="639.3"/>
<rect class="we" x="820.7" y="640.7" width="44.1" height="25.3"/><text class="wt" transform="translate(826.3,647) scale(.82,1)"><tspan x="0">Assess fit based</tspan><tspan x="0" dy="5.8">on job experi-</tspan><tspan x="0" dy="5.8">ence, skills</tspan></text><use href="#tp" x="820.7" y="666"/><use href="#tb" x="864.8" y="666"/>
<rect class="wb" x="820.7" y="667.3" width="44.1" height="26.7"/><text class="wt" transform="translate(826.3,673.6) scale(.82,1)"><tspan x="0">Assess fit based</tspan><tspan x="0" dy="5.8">on applicant loca-</tspan><tspan x="0" dy="5.8">tion</tspan></text><use href="#tp" x="820.7" y="694"/>
<rect class="wb" x="820.7" y="695.7" width="44.1" height="49.3"/><text class="wt" transform="translate(826.3,702) scale(.82,1)"><tspan x="0">Feel frustrated</tspan><tspan x="0" dy="5.8">when other staff</tspan><tspan x="0" dy="5.8">don’t have an</tspan><tspan x="0" dy="5.8">open mind about</tspan><tspan x="0" dy="5.8">considering a</tspan><tspan x="0" dy="5.8">candidate with a</tspan><tspan x="0" dy="5.8">disability</tspan></text><use href="#tp" x="820.7" y="745"/>
</g>

<g id="tower-a03">
<rect class="card" x="871.7" y="673.3" width="47.5" height="74" rx="2"/>
<text class="th" transform="translate(874,681.6) scale(.78,1)"><tspan x="0">Decide</tspan><tspan x="0" dy="8.57">whether to</tspan><tspan x="0" dy="8.57">interview</tspan><tspan x="0" dy="8.57">applicants</tspan></text>
<rect class="wb" x="873.4" y="718.3" width="44.1" height="26.7"/><text class="wt" transform="translate(879,724.6) scale(.82,1)"><tspan x="0">Decide whether</tspan><tspan x="0" dy="5.8">to interview an</tspan><tspan x="0" dy="5.8">applicant</tspan></text><use href="#tb" x="917.5" y="745"/>
</g>

<g id="tower-a04">
<rect class="card" x="924" y="624" width="47.5" height="123.3" rx="2"/>
<text class="th" transform="translate(926.3,632.3) scale(.78,1)"><tspan x="0">Conduct a</tspan><tspan x="0" dy="8.57">preliminary</tspan><tspan x="0" dy="8.57">conversa-</tspan><tspan x="0" dy="8.57">tion with an</tspan><tspan x="0" dy="8.57">applicant</tspan></text>
<rect class="wb" x="925.7" y="681.7" width="44.1" height="31"/><text class="wt" transform="translate(931.3,688) scale(.82,1)"><tspan x="0">Call qualified ap-</tspan><tspan x="0" dy="5.8">plicants to assess</tspan><tspan x="0" dy="5.8">their interest in a</tspan><tspan x="0" dy="5.8">position</tspan></text><use href="#tp" x="925.7" y="712.7"/>
<rect class="we" x="925.7" y="714.3" width="44.1" height="30.7"/><text class="wt" transform="translate(931.3,720.6) scale(.82,1)"><tspan x="0">Let candidates</tspan><tspan x="0" dy="5.8">know we are</tspan><tspan x="0" dy="5.8">interested in</tspan><tspan x="0" dy="5.8">them</tspan></text><use href="#tp" x="925.7" y="745"/>
</g>

<g id="tower-a05">
<rect class="card" x="976.3" y="444" width="47.5" height="303.3" rx="2"/>
<text class="th" transform="translate(978.6,452.3) scale(.78,1)"><tspan x="0">Plan for</tspan><tspan x="0" dy="8.57">interview</tspan><tspan x="0" dy="8.57">with a</tspan><tspan x="0" dy="8.57">candidate</tspan><tspan x="0" dy="8.57">with a</tspan><tspan x="0" dy="8.57">disability</tspan></text>
<rect class="wb" x="978" y="510" width="44.1" height="36"/><text class="wt" transform="translate(983.6,516.3) scale(.82,1)"><tspan x="0">Feel comfortable</tspan><tspan x="0" dy="5.8">trouble shooting</tspan><tspan x="0" dy="5.8">if a disability is-</tspan><tspan x="0" dy="5.8">sue arises with a</tspan><tspan x="0" dy="5.8">job candidate</tspan></text><use href="#tp" x="978" y="546"/>
<rect class="wb" x="978" y="547.7" width="44.1" height="31.6"/><text class="wt" transform="translate(983.6,554) scale(.82,1)"><tspan x="0">Worry about what</tspan><tspan x="0" dy="5.8">I can or can’t say</tspan><tspan x="0" dy="5.8">to a candidate</tspan><tspan x="0" dy="5.8">with a disability</tspan></text><use href="#tb" x="1022.1" y="579.3"/>
<rect class="wb" x="978" y="581" width="44.1" height="44"/><text class="wt" transform="translate(983.6,587.3) scale(.82,1)"><tspan x="0">Worry that a</tspan><tspan x="0" dy="5.8">supervisor will</tspan><tspan x="0" dy="5.8">say something</tspan><tspan x="0" dy="5.8">inappropriate to a</tspan><tspan x="0" dy="5.8">candidate with a</tspan><tspan x="0" dy="5.8">disability</tspan></text><use href="#tb" x="1022.1" y="625"/>
<rect class="wb" x="978" y="626.7" width="44.1" height="36.6"/><text class="wt" transform="translate(983.6,633) scale(.82,1)"><tspan x="0">Take an on-</tspan><tspan x="0" dy="5.8">line class on</tspan><tspan x="0" dy="5.8">interviewing</tspan><tspan x="0" dy="5.8">candidates with</tspan><tspan x="0" dy="5.8">disabilities</tspan></text><use href="#tb" x="1022.1" y="663.3"/>
<rect class="wb" x="978" y="665" width="44.1" height="26"/><text class="wt" transform="translate(983.6,671.3) scale(.82,1)"><tspan x="0">Call EARN for dis-</tspan><tspan x="0" dy="5.8">ability interview-</tspan><tspan x="0" dy="5.8">ing tips</tspan></text><use href="#tb" x="1022.1" y="691"/>
<rect class="wb" x="978" y="692.3" width="44.1" height="20.4"/><text class="wt" transform="translate(983.6,698.6) scale(.82,1)"><tspan x="0">Involve job coach-</tspan><tspan x="0" dy="5.8">es in interviews</tspan></text><use href="#tp" x="978" y="712.7"/>
<rect class="wb" x="978" y="714.3" width="44.1" height="30.7"/><text class="wt" transform="translate(983.6,720.6) scale(.82,1)"><tspan x="0">Work around</tspan><tspan x="0" dy="5.8">building accessi-</tspan><tspan x="0" dy="5.8">bility problems for</tspan><tspan x="0" dy="5.8">a job candidate</tspan></text>
</g>

<g id="tower-a06">
<rect class="card" x="1028.7" y="574.3" width="47.5" height="173" rx="2"/>
<text class="th" transform="translate(1031,582.6) scale(.78,1)"><tspan x="0">Interview</tspan><tspan x="0" dy="8.57">candidates</tspan></text>
<rect class="we" x="1030.4" y="607.7" width="44.1" height="25"/><text class="wt" transform="translate(1036,614) scale(.82,1)"><tspan x="0">Conduct initial</tspan><tspan x="0" dy="5.8">informal inter-</tspan><tspan x="0" dy="5.8">view</tspan></text><use href="#tp" x="1030.4" y="632.7"/><use href="#tb" x="1074.5" y="632.7"/>
<rect class="we" x="1030.4" y="634.3" width="44.1" height="19"/><text class="wt" transform="translate(1036,640.6) scale(.82,1)"><tspan x="0">Conduct formal</tspan><tspan x="0" dy="5.8">interview</tspan></text><use href="#tb" x="1074.5" y="653.3"/>
<rect class="wb" x="1030.4" y="655.3" width="44.1" height="31.4"/><text class="wt" transform="translate(1036,661.6) scale(.82,1)"><tspan x="0">Try to make a</tspan><tspan x="0" dy="5.8">candidate with a</tspan><tspan x="0" dy="5.8">disability comfort-</tspan><tspan x="0" dy="5.8">able</tspan></text><use href="#tp" x="1030.4" y="686.7"/>
<rect class="we" x="1030.4" y="688.7" width="44.1" height="56.3"/><text class="wt" transform="translate(1036,695) scale(.82,1)"><tspan x="0">Use alternative</tspan><tspan x="0" dy="5.8">methods for</tspan><tspan x="0" dy="5.8">communicating</tspan><tspan x="0" dy="5.8">with applicants</tspan><tspan x="0" dy="5.8">with hearing</tspan><tspan x="0" dy="5.8">disabilities and</tspan><tspan x="0" dy="5.8">limited English</tspan><tspan x="0" dy="5.8">proficiency</tspan></text><use href="#tp" x="1030.4" y="745"/>
</g>

<g id="tower-a07">
<rect class="card" x="1081" y="661.7" width="47.5" height="85.6" rx="2"/>
<text class="th" transform="translate(1083.3,670) scale(.78,1)"><tspan x="0">Contact</tspan><tspan x="0" dy="8.57">references</tspan><tspan x="0" dy="8.57">to learn</tspan><tspan x="0" dy="8.57">more about</tspan><tspan x="0" dy="8.57">applicant</tspan></text>
<rect class="wp" x="1082.7" y="718.3" width="44.1" height="26.7"/><text class="wt" transform="translate(1088.3,724.6) scale(.82,1)"><tspan x="0">Contact others to</tspan><tspan x="0" dy="5.8">learn about inter-</tspan><tspan x="0" dy="5.8">nal applicants</tspan></text><use href="#tp" x="1082.7" y="745"/>
</g>

<g id="tower-a08">
<rect class="card" x="1133.3" y="591.7" width="47.5" height="155.6" rx="2"/>
<text class="th" transform="translate(1135.6,600) scale(.78,1)"><tspan x="0">Consider</tspan><tspan x="0" dy="8.57">disability</tspan><tspan x="0" dy="8.57">when</tspan><tspan x="0" dy="8.57">determining</tspan><tspan x="0" dy="8.57">whether an</tspan><tspan x="0" dy="8.57">applicant fits</tspan><tspan x="0" dy="8.57">a position</tspan></text>
<rect class="wb" x="1135" y="669.3" width="44.1" height="36.7"/><text class="wt" transform="translate(1140.6,675.6) scale(.82,1)"><tspan x="0">Value the differ-</tspan><tspan x="0" dy="5.8">ent perspective</tspan><tspan x="0" dy="5.8">that an employee</tspan><tspan x="0" dy="5.8">with a disability</tspan><tspan x="0" dy="5.8">can provide</tspan></text><use href="#tp" x="1135" y="706"/>
<rect class="wb" x="1135" y="708.3" width="44.1" height="36.7"/><text class="wt" transform="translate(1140.6,714.6) scale(.82,1)"><tspan x="0">Determine wheth-</tspan><tspan x="0" dy="5.8">er there is a way</tspan><tspan x="0" dy="5.8">to accommodate</tspan><tspan x="0" dy="5.8">a candidate’s dis-</tspan><tspan x="0" dy="5.8">ability</tspan></text><use href="#tp" x="1135" y="745"/>
</g>

<g id="tower-a09">
<rect class="card" x="1186" y="570" width="47.5" height="177.3" rx="2"/>
<text class="th" transform="translate(1188.3,578.3) scale(.78,1)"><tspan x="0">Identify the</tspan><tspan x="0" dy="8.57">best match</tspan><tspan x="0" dy="8.57">for a position</tspan></text>
<rect class="we" x="1187.7" y="614.3" width="44.1" height="35.7"/><text class="wt" transform="translate(1193.3,620.6) scale(.82,1)"><tspan x="0">Identify the</tspan><tspan x="0" dy="5.8">candidate who’s</tspan><tspan x="0" dy="5.8">skills are the</tspan><tspan x="0" dy="5.8">best match for a</tspan><tspan x="0" dy="5.8">position</tspan></text><use href="#tp" x="1187.7" y="650"/>
<rect class="wp" x="1187.7" y="652.7" width="44.1" height="31.3"/><text class="wt" transform="translate(1193.3,659) scale(.82,1)"><tspan x="0">Try to get a sense</tspan><tspan x="0" dy="5.8">of how committed</tspan><tspan x="0" dy="5.8">a candidate will</tspan><tspan x="0" dy="5.8">be to the position</tspan></text><use href="#tp" x="1187.7" y="684"/>
<rect class="wb" x="1187.7" y="685.3" width="44.1" height="31.4"/><text class="wt" transform="translate(1193.3,691.6) scale(.82,1)"><tspan x="0">Introduce finalists</tspan><tspan x="0" dy="5.8">for a position</tspan><tspan x="0" dy="5.8">to the company</tspan><tspan x="0" dy="5.8">owner</tspan></text><use href="#tp" x="1187.7" y="716.7"/>
<rect class="wp" x="1187.7" y="718.3" width="44.1" height="26.7"/><text class="wt" transform="translate(1193.3,724.6) scale(.82,1)"><tspan x="0">Feel excited to</tspan><tspan x="0" dy="5.8">find a candidate</tspan><tspan x="0" dy="5.8">who is a good fit</tspan></text><use href="#tp" x="1187.7" y="745"/>
</g>

<!-- HIRE TOWERS -->
<g id="tower-h01">
<rect class="card" x="1266.7" y="667.7" width="47.5" height="79.6" rx="2"/>
<text class="th" transform="translate(1269,676) scale(.78,1)"><tspan x="0">Decide</tspan><tspan x="0" dy="8.57">whether or</tspan><tspan x="0" dy="8.57">not to hire</tspan><tspan x="0" dy="8.57">someone</tspan></text>
<rect class="we" x="1268.4" y="713.3" width="44.1" height="31.7"/><text class="wt" transform="translate(1274,719.6) scale(.82,1)"><tspan x="0">Decide whether</tspan><tspan x="0" dy="5.8">or not to hire a</tspan><tspan x="0" dy="5.8">particular candi-</tspan><tspan x="0" dy="5.8">date</tspan></text><use href="#tp" x="1268.4" y="745"/><use href="#tg" x="1312.5" y="713.3"/>
</g>

<g id="tower-h02">
<rect class="card" x="1319" y="640.7" width="47.5" height="106.6" rx="2"/>
<text class="th" transform="translate(1321.3,649) scale(.78,1)"><tspan x="0">Request</tspan><tspan x="0" dy="8.57">higher level</tspan><tspan x="0" dy="8.57">approval to</tspan><tspan x="0" dy="8.57">hire someone</tspan></text>
<rect class="wb" x="1320.7" y="690.7" width="44.1" height="26"/><text class="wt" transform="translate(1326.3,697) scale(.82,1)"><tspan x="0">Request national</tspan><tspan x="0" dy="5.8">office approval to</tspan><tspan x="0" dy="5.8">hire someone</tspan></text><use href="#tb" x="1364.8" y="716.7"/>
<rect class="wb" x="1320.7" y="718.3" width="44.1" height="26.7"/><text class="wt" transform="translate(1326.3,724.6) scale(.82,1)"><tspan x="0">Request my</tspan><tspan x="0" dy="5.8">boss’s approval to</tspan><tspan x="0" dy="5.8">hire someone</tspan></text><use href="#tb" x="1364.8" y="745"/>
</g>

<g id="tower-h03">
<rect class="card" x="1371.3" y="670.7" width="47.5" height="76.6" rx="2"/>
<text class="th" transform="translate(1373.6,679) scale(.78,1)"><tspan x="0">Determine</tspan><tspan x="0" dy="8.57">the salary</tspan><tspan x="0" dy="8.57">to offer a</tspan><tspan x="0" dy="8.57">candidate</tspan></text>
<rect class="wp" x="1373" y="718.3" width="44.1" height="26.7"/><text class="wt" transform="translate(1378.6,724.6) scale(.82,1)"><tspan x="0">Determine the</tspan><tspan x="0" dy="5.8">salary to offer a</tspan><tspan x="0" dy="5.8">candidate</tspan></text><use href="#tb" x="1417.1" y="745"/>
</g>

<g id="tower-h04">
<rect class="card" x="1423.7" y="684" width="47.5" height="63.3" rx="2"/>
<text class="th" transform="translate(1426,692.3) scale(.78,1)"><tspan x="0">Offer a job</tspan><tspan x="0" dy="8.57">candidate a</tspan><tspan x="0" dy="8.57">position</tspan></text>
<rect class="wb" x="1425.4" y="725.7" width="44.1" height="19.3"/><text class="wt" transform="translate(1431,732) scale(.82,1)"><tspan x="0">Offer a job candi-</tspan><tspan x="0" dy="5.8">date a position</tspan></text><use href="#tb" x="1469.5" y="745"/>
</g>

<g id="tower-h05">
<rect class="card" x="1476" y="665.7" width="47.5" height="81.6" rx="2"/>
<text class="th" transform="translate(1478.3,674) scale(.78,1)"><tspan x="0">Hire</tspan><tspan x="0" dy="8.57">Applicants</tspan></text>
<rect class="wb" x="1477.7" y="697.7" width="44.1" height="32.3"/><text class="wt" transform="translate(1483.3,704) scale(.82,1)"><tspan x="0">Hire an applicant</tspan><tspan x="0" dy="5.8">using non-</tspan><tspan x="0" dy="5.8">competitive hiring</tspan><tspan x="0" dy="5.8">tools</tspan></text><use href="#tb" x="1521.8" y="730"/>
<rect class="wb" x="1477.7" y="731" width="44.1" height="14"/><text class="wt" transform="translate(1483.3,739.4) scale(.82,1)">Hire applicants</text><use href="#tb" x="1521.8" y="745"/>
</g>

<g id="tower-h06">
<rect class="card" x="1528.3" y="522.7" width="47.5" height="224.6" rx="2"/>
<text class="th" transform="translate(1530.6,531) scale(.78,1)"><tspan x="0">Ask new</tspan><tspan x="0" dy="8.57">employees</tspan><tspan x="0" dy="8.57">to voluntarily</tspan><tspan x="0" dy="8.57">self-identify</tspan><tspan x="0" dy="8.57">that they</tspan><tspan x="0" dy="8.57">have a dis-</tspan><tspan x="0" dy="8.57">ability, need</tspan><tspan x="0" dy="8.57">accommoda-</tspan><tspan x="0" dy="8.57">tion</tspan></text>
<rect class="we" x="1530" y="614.3" width="44.1" height="25"/><text class="wt" transform="translate(1535.6,620.6) scale(.82,1)"><tspan x="0">Ask new hires to</tspan><tspan x="0" dy="5.8">fill out voluntary</tspan><tspan x="0" dy="5.8">EEO survey</tspan></text><use href="#tp" x="1530" y="639.3"/>
<rect class="wp" x="1530" y="641.7" width="44.1" height="31.6"/><text class="wt" transform="translate(1535.6,648) scale(.82,1)"><tspan x="0">Feel frustrated</tspan><tspan x="0" dy="5.8">that no one re-</tspan><tspan x="0" dy="5.8">ports disability on</tspan><tspan x="0" dy="5.8">the EEO form</tspan></text>
<rect class="wb" x="1530" y="675" width="44.1" height="36.7"/><text class="wt" transform="translate(1535.6,681.3) scale(.82,1)"><tspan x="0">Worry that ap-</tspan><tspan x="0" dy="5.8">plicants and em-</tspan><tspan x="0" dy="5.8">ployees will hide</tspan><tspan x="0" dy="5.8">their disability out</tspan><tspan x="0" dy="5.8">of fear</tspan></text><use href="#tp" x="1530" y="711.7"/>
<rect class="wb" x="1530" y="713.3" width="44.1" height="31.7"/><text class="wt" transform="translate(1535.6,719.6) scale(.82,1)"><tspan x="0">Assume employ-</tspan><tspan x="0" dy="5.8">ees don’t have</tspan><tspan x="0" dy="5.8">disabilities unless</tspan><tspan x="0" dy="5.8">they disclose</tspan></text><use href="#tp" x="1530" y="745"/>
</g>

<g id="tower-h07">
<rect class="card" x="1580.7" y="643.3" width="47.5" height="104" rx="2"/>
<text class="th" transform="translate(1583,651.6) scale(.78,1)"><tspan x="0">Customize</tspan><tspan x="0" dy="8.57">job scope</tspan></text>
<rect class="wb" x="1582.4" y="673.3" width="44.1" height="43.4"/><text class="wt" transform="translate(1588,679.6) scale(.82,1)"><tspan x="0">Take disability</tspan><tspan x="0" dy="5.8">restrictions into</tspan><tspan x="0" dy="5.8">account when</tspan><tspan x="0" dy="5.8">assigning new</tspan><tspan x="0" dy="5.8">employees job</tspan><tspan x="0" dy="5.8">tasks</tspan></text><use href="#tp" x="1582.4" y="716.7"/>
<rect class="wb" x="1582.4" y="718.3" width="44.1" height="26.7"/><text class="wt" transform="translate(1588,724.6) scale(.82,1)"><tspan x="0">Consider safety</tspan><tspan x="0" dy="5.8">and type of dis-</tspan><tspan x="0" dy="5.8">ability</tspan></text><use href="#tp" x="1582.4" y="745"/>
</g>

<g id="tower-h08">
<rect class="card" x="1633.3" y="642.7" width="47.5" height="104.6" rx="2"/>
<text class="th" transform="translate(1635.6,651) scale(.78,1)"><tspan x="0">Work with</tspan><tspan x="0" dy="8.57">job coaches</tspan><tspan x="0" dy="8.57">to prepare</tspan><tspan x="0" dy="8.57">employee to</tspan><tspan x="0" dy="8.57">work at my</tspan><tspan x="0" dy="8.57">organization</tspan></text>
<rect class="wb" x="1635" y="708.3" width="44.1" height="36.7"/><text class="wt" transform="translate(1640.6,714.6) scale(.82,1)"><tspan x="0">Work with job</tspan><tspan x="0" dy="5.8">coaches to</tspan><tspan x="0" dy="5.8">prepare employee</tspan><tspan x="0" dy="5.8">to work at my</tspan><tspan x="0" dy="5.8">organization</tspan></text><use href="#tp" x="1635" y="745"/>
</g>

<!-- DEVELOP / MONITOR TOWERS -->
<g id="tower-d01">
<rect class="card" x="1724.3" y="581.7" width="47.5" height="165.6" rx="2"/>
<text class="th" transform="translate(1726.6,590) scale(.78,1)"><tspan x="0">Train staff in</tspan><tspan x="0" dy="8.57">skills</tspan></text>
<rect class="wp" x="1726" y="614.3" width="44.1" height="31.4"/><text class="wt" transform="translate(1731.6,620.6) scale(.82,1)"><tspan x="0">Suggest an</tspan><tspan x="0" dy="5.8">employee look for</tspan><tspan x="0" dy="5.8">relevant training</tspan><tspan x="0" dy="5.8">opportunities</tspan></text><use href="#tp" x="1726" y="645.7"/>
<rect class="wep" x="1726" y="647.3" width="44.1" height="26"/><text class="wt" transform="translate(1731.6,653.6) scale(.82,1)"><tspan x="0">Send employees</tspan><tspan x="0" dy="5.8">to training on</tspan><tspan x="0" dy="5.8">new jobs skills</tspan></text><use href="#tp" x="1726" y="673.3"/>
<rect class="wp" x="1726" y="675" width="44.1" height="14"/><text class="wt" transform="translate(1731.6,683.4) scale(.82,1)">Conduct training</text><use href="#tp" x="1726" y="689"/>
<rect class="wb" x="1726" y="690.7" width="44.1" height="26"/><text class="wt" transform="translate(1731.6,697) scale(.82,1)"><tspan x="0">Involve parents,</tspan><tspan x="0" dy="5.8">job coaches in</tspan><tspan x="0" dy="5.8">training</tspan></text><use href="#tp" x="1726" y="716.7"/>
<rect class="wp" x="1726" y="718.3" width="44.1" height="26.7"/><text class="wt" transform="translate(1731.6,724.6) scale(.82,1)"><tspan x="0">Struggle to find</tspan><tspan x="0" dy="5.8">money to for em-</tspan><tspan x="0" dy="5.8">ployee trainings</tspan></text><use href="#tb" x="1770.1" y="745"/>
</g>

<g id="tower-d02">
<rect class="card" x="1776.7" y="581.7" width="47.5" height="165.6" rx="2"/>
<text class="th" transform="translate(1779,590) scale(.78,1)"><tspan x="0">Support the</tspan><tspan x="0" dy="8.57">development</tspan><tspan x="0" dy="8.57">of employee</tspan><tspan x="0" dy="8.57">resource</tspan><tspan x="0" dy="8.57">groups</tspan></text>
<rect class="wb" x="1778.4" y="641.7" width="44.1" height="31.6"/><text class="wt" transform="translate(1784,648) scale(.82,1)"><tspan x="0">Encourage the</tspan><tspan x="0" dy="5.8">development</tspan><tspan x="0" dy="5.8">of employee</tspan><tspan x="0" dy="5.8">resource groups</tspan></text>
<rect class="wb" x="1778.4" y="675" width="44.1" height="36.7"/><text class="wt" transform="translate(1784,681.3) scale(.82,1)"><tspan x="0">Develop a busi-</tspan><tspan x="0" dy="5.8">ness plan for a</tspan><tspan x="0" dy="5.8">disability em-</tspan><tspan x="0" dy="5.8">ployee resource</tspan><tspan x="0" dy="5.8">group</tspan></text>
<rect class="wb" x="1778.4" y="713.3" width="44.1" height="31.7"/><text class="wt" transform="translate(1784,719.6) scale(.82,1)"><tspan x="0">Review applica-</tspan><tspan x="0" dy="5.8">tions for Em-</tspan><tspan x="0" dy="5.8">ployee Resource</tspan><tspan x="0" dy="5.8">Groups</tspan></text>
</g>

<g id="tower-d03">
<rect class="card" x="1829" y="362.3" width="47.5" height="385" rx="2"/>
<text class="th" transform="translate(1831.3,370.6) scale(.78,1)"><tspan x="0">Train</tspan><tspan x="0" dy="8.57">employees</tspan><tspan x="0" dy="8.57">about</tspan><tspan x="0" dy="8.57">disability,</tspan><tspan x="0" dy="8.57">diversity</tspan><tspan x="0" dy="8.57">awareness</tspan></text>
<rect class="we" x="1830.7" y="427.3" width="44.1" height="30.4"/><text class="wt" transform="translate(1836.3,433.6) scale(.82,1)"><tspan x="0">Make it clear</tspan><tspan x="0" dy="5.8">that our orga-</tspan><tspan x="0" dy="5.8">nization values</tspan><tspan x="0" dy="5.8">diversity</tspan></text><use href="#tp" x="1830.7" y="457.7"/><use href="#tb" x="1874.8" y="457.7"/><use href="#tg" x="1874.8" y="427.3"/>
<rect class="wb" x="1830.7" y="459.3" width="44.1" height="30.7"/><text class="wt" transform="translate(1836.3,465.6) scale(.82,1)"><tspan x="0">Train supervisors</tspan><tspan x="0" dy="5.8">on working with</tspan><tspan x="0" dy="5.8">employees return-</tspan><tspan x="0" dy="5.8">ing from leave</tspan></text><use href="#tp" x="1830.7" y="490"/>
<rect class="wb" x="1830.7" y="492.3" width="44.1" height="31"/><text class="wt" transform="translate(1836.3,498.6) scale(.82,1)"><tspan x="0">Train supervisors</tspan><tspan x="0" dy="5.8">on interviewing</tspan><tspan x="0" dy="5.8">people with dis-</tspan><tspan x="0" dy="5.8">abilities</tspan></text><use href="#tb" x="1874.8" y="523.3"/>
<rect class="wb" x="1830.7" y="525.7" width="44.1" height="36"/><text class="wt" transform="translate(1836.3,532) scale(.82,1)"><tspan x="0">Encourage em-</tspan><tspan x="0" dy="5.8">ployees to partici-</tspan><tspan x="0" dy="5.8">pate in webinars</tspan><tspan x="0" dy="5.8">on disability and</tspan><tspan x="0" dy="5.8">employment</tspan></text>
<rect class="wb" x="1830.7" y="563.3" width="44.1" height="31.7"/><text class="wt" transform="translate(1836.3,569.6) scale(.82,1)"><tspan x="0">Attend training</tspan><tspan x="0" dy="5.8">on the ADA and</tspan><tspan x="0" dy="5.8">other disability</tspan><tspan x="0" dy="5.8">laws</tspan></text><use href="#tp" x="1830.7" y="595"/>
<rect class="we" x="1830.7" y="597.3" width="44.1" height="25.4"/><text class="wt" transform="translate(1836.3,603.6) scale(.82,1)"><tspan x="0">Train supervisors</tspan><tspan x="0" dy="5.8">on accommoda-</tspan><tspan x="0" dy="5.8">tions</tspan></text><use href="#tb" x="1874.8" y="622.7"/>
<rect class="we" x="1830.7" y="625" width="44.1" height="25"/><text class="wt" transform="translate(1836.3,631.3) scale(.82,1)"><tspan x="0">Display informa-</tspan><tspan x="0" dy="5.8">tion on disability</tspan><tspan x="0" dy="5.8">in the workplace</tspan></text><use href="#tb" x="1874.8" y="650"/>
<rect class="wb" x="1830.7" y="652.3" width="44.1" height="31"/><text class="wt" transform="translate(1836.3,658.6) scale(.82,1)"><tspan x="0">Order informa-</tspan><tspan x="0" dy="5.8">tional disability</tspan><tspan x="0" dy="5.8">posters for the</tspan><tspan x="0" dy="5.8">workplace</tspan></text><use href="#tb" x="1874.8" y="683.3"/>
<rect class="wb" x="1830.7" y="685.7" width="44.1" height="26"/><text class="wt" transform="translate(1836.3,692) scale(.82,1)"><tspan x="0">Provide voluntary</tspan><tspan x="0" dy="5.8">informational dis-</tspan><tspan x="0" dy="5.8">ability events</tspan></text>
<rect class="wb" x="1830.7" y="713.3" width="44.1" height="31.7"/><text class="wt" transform="translate(1836.3,719.6) scale(.82,1)"><tspan x="0">Send disabil-</tspan><tspan x="0" dy="5.8">ity employment</tspan><tspan x="0" dy="5.8">information to</tspan><tspan x="0" dy="5.8">employees</tspan></text><use href="#tb" x="1874.8" y="745"/>
</g>

<g id="tower-d04">
<rect class="card" x="1881.7" y="400" width="47.5" height="347.3" rx="2"/>
<text class="th" transform="translate(1884,408.3) scale(.78,1)"><tspan x="0">Try to make</tspan><tspan x="0" dy="8.57">myself &amp;</tspan><tspan x="0" dy="8.57">employees</tspan><tspan x="0" dy="8.57">more</tspan><tspan x="0" dy="8.57">aware of</tspan><tspan x="0" dy="8.57">people with</tspan><tspan x="0" dy="8.57">disabilities</tspan></text>
<rect class="wb" x="1883.4" y="473.3" width="44.1" height="44.4"/><text class="wt" transform="translate(1889,479.6) scale(.82,1)"><tspan x="0">Try to be more</tspan><tspan x="0" dy="5.8">conscious of</tspan><tspan x="0" dy="5.8">when I make</tspan><tspan x="0" dy="5.8">assumptions</tspan><tspan x="0" dy="5.8">about people with</tspan><tspan x="0" dy="5.8">disabilities</tspan></text><use href="#tp" x="1883.4" y="517.7"/>
<rect class="wb" x="1883.4" y="519.3" width="44.1" height="36.7"/><text class="wt" transform="translate(1889,525.6) scale(.82,1)"><tspan x="0">Try to learn</tspan><tspan x="0" dy="5.8">from my mis-</tspan><tspan x="0" dy="5.8">takes related to</tspan><tspan x="0" dy="5.8">employees with</tspan><tspan x="0" dy="5.8">disabilities</tspan></text><use href="#tp" x="1883.4" y="556"/>
<rect class="we" x="1883.4" y="557.7" width="44.1" height="36.6"/><text class="wt" transform="translate(1889,564) scale(.82,1)"><tspan x="0">Talk to others</tspan><tspan x="0" dy="5.8">about positive</tspan><tspan x="0" dy="5.8">experiences I</tspan><tspan x="0" dy="5.8">have had related</tspan><tspan x="0" dy="5.8">to disability</tspan></text><use href="#tp" x="1883.4" y="594.3"/><use href="#tb" x="1927.5" y="594.3"/><use href="#tg" x="1927.5" y="557.7"/>
<rect class="we" x="1883.4" y="596" width="44.1" height="36.7"/><text class="wt" transform="translate(1889,602.3) scale(.82,1)"><tspan x="0">Feel upset that</tspan><tspan x="0" dy="5.8">people are</tspan><tspan x="0" dy="5.8">ignorant, close-</tspan><tspan x="0" dy="5.8">minded about</tspan><tspan x="0" dy="5.8">disability</tspan></text><use href="#tp" x="1883.4" y="632.7"/>
<rect class="we" x="1883.4" y="634.7" width="44.1" height="31.3"/><text class="wt" transform="translate(1889,641) scale(.82,1)"><tspan x="0">Feel inspired by</tspan><tspan x="0" dy="5.8">family, friends,</tspan><tspan x="0" dy="5.8">employees with</tspan><tspan x="0" dy="5.8">disabilities</tspan></text><use href="#tb" x="1927.5" y="666"/><use href="#tg" x="1927.5" y="634.7"/>
<rect class="wp" x="1883.4" y="667.3" width="44.1" height="49.4"/><text class="wt" transform="translate(1889,673.6) scale(.82,1)"><tspan x="0">Worry that</tspan><tspan x="0" dy="5.8">employees don’t</tspan><tspan x="0" dy="5.8">have sympathy</tspan><tspan x="0" dy="5.8">and empathy</tspan><tspan x="0" dy="5.8">for mental and</tspan><tspan x="0" dy="5.8">substance-related</tspan><tspan x="0" dy="5.8">disabilities</tspan></text>
<rect class="wp" x="1883.4" y="718.3" width="44.1" height="26.7"/><text class="wt" transform="translate(1889,724.6) scale(.82,1)"><tspan x="0">Feel excited to</tspan><tspan x="0" dy="5.8">use sign language</tspan><tspan x="0" dy="5.8">with an employee</tspan></text>
</g>

<g id="tower-d05">
<rect class="card" x="1934" y="269" width="47.5" height="478.3" rx="2"/>
<text class="th" transform="translate(1936.3,277.3) scale(.78,1)"><tspan x="0">Coach</tspan><tspan x="0" dy="8.57">employees</tspan><tspan x="0" dy="8.57">on working</tspan><tspan x="0" dy="8.57">with a team</tspan><tspan x="0" dy="8.57">member with</tspan><tspan x="0" dy="8.57">a disability</tspan></text>
<rect class="wp" x="1935.7" y="331.7" width="44.1" height="37.6"/><text class="wt" transform="translate(1941.3,338) scale(.82,1)"><tspan x="0">Educate staff</tspan><tspan x="0" dy="5.8">about a particular</tspan><tspan x="0" dy="5.8">type of disability</tspan><tspan x="0" dy="5.8">after a workplace</tspan><tspan x="0" dy="5.8">incident</tspan></text>
<rect class="wp" x="1935.7" y="370.7" width="44.1" height="43.3"/><text class="wt" transform="translate(1941.3,377) scale(.82,1)"><tspan x="0">Put aside my</tspan><tspan x="0" dy="5.8">personal feelings</tspan><tspan x="0" dy="5.8">when talking</tspan><tspan x="0" dy="5.8">to staff about a</tspan><tspan x="0" dy="5.8">coworker’s dis-</tspan><tspan x="0" dy="5.8">ability</tspan></text>
<rect class="wp" x="1935.7" y="415.7" width="44.1" height="56"/><text class="wt" transform="translate(1941.3,422) scale(.82,1)"><tspan x="0">Give staff an</tspan><tspan x="0" dy="5.8">opportunity to</tspan><tspan x="0" dy="5.8">talk candidly</tspan><tspan x="0" dy="5.8">about resentment</tspan><tspan x="0" dy="5.8">about the impact</tspan><tspan x="0" dy="5.8">of a coworker’s</tspan><tspan x="0" dy="5.8">disability, accom-</tspan><tspan x="0" dy="5.8">modation</tspan></text>
<rect class="wp" x="1935.7" y="473.3" width="44.1" height="32.7"/><text class="wt" transform="translate(1941.3,479.6) scale(.82,1)"><tspan x="0">Convince staff to</tspan><tspan x="0" dy="5.8">be respectful of</tspan><tspan x="0" dy="5.8">coworker with a</tspan><tspan x="0" dy="5.8">disability</tspan></text>
<rect class="wp" x="1935.7" y="507.3" width="44.1" height="36"/><text class="wt" transform="translate(1941.3,513.6) scale(.82,1)"><tspan x="0">Teach staff basic</tspan><tspan x="0" dy="5.8">sign language so</tspan><tspan x="0" dy="5.8">they can commu-</tspan><tspan x="0" dy="5.8">nicate with deaf</tspan><tspan x="0" dy="5.8">coworkers</tspan></text>
<rect class="wp" x="1935.7" y="545" width="44.1" height="36.7"/><text class="wt" transform="translate(1941.3,551.3) scale(.82,1)"><tspan x="0">Train the depart-</tspan><tspan x="0" dy="5.8">ment on respond-</tspan><tspan x="0" dy="5.8">ing appropriately</tspan><tspan x="0" dy="5.8">when an employ-</tspan><tspan x="0" dy="5.8">ee has a seizure</tspan></text>
<rect class="wp" x="1935.7" y="583.3" width="44.1" height="37.7"/><text class="wt" transform="translate(1941.3,589.6) scale(.82,1)"><tspan x="0">Prepare staff to</tspan><tspan x="0" dy="5.8">assist employee</tspan><tspan x="0" dy="5.8">with disability</tspan><tspan x="0" dy="5.8">in the event of</tspan><tspan x="0" dy="5.8">emergency</tspan></text>
<rect class="wb" x="1935.7" y="622.3" width="44.1" height="43.7"/><text class="wt" transform="translate(1941.3,628.6) scale(.82,1)"><tspan x="0">Reassure manag-</tspan><tspan x="0" dy="5.8">ers/supervisors</tspan><tspan x="0" dy="5.8">when they are</tspan><tspan x="0" dy="5.8">anxious about</tspan><tspan x="0" dy="5.8">employee dis-</tspan><tspan x="0" dy="5.8">ability issues</tspan></text><use href="#tp" x="1935.7" y="666"/>
<rect class="wb" x="1935.7" y="667.3" width="44.1" height="32"/><text class="wt" transform="translate(1941.3,673.6) scale(.82,1)"><tspan x="0">Coach supervisors</tspan><tspan x="0" dy="5.8">in working with</tspan><tspan x="0" dy="5.8">an employee with</tspan><tspan x="0" dy="5.8">a disability</tspan></text><use href="#tp" x="1935.7" y="699.3"/>
<rect class="wb" x="1935.7" y="700.7" width="44.1" height="44.3"/><text class="wt" transform="translate(1941.3,707) scale(.82,1)"><tspan x="0">Coach managers</tspan><tspan x="0" dy="5.8">on being sensitive</tspan><tspan x="0" dy="5.8">to legal issues</tspan><tspan x="0" dy="5.8">related to an</tspan><tspan x="0" dy="5.8">employee with a</tspan><tspan x="0" dy="5.8">disability</tspan></text><use href="#tp" x="1935.7" y="745"/>
</g>

<g id="tower-m01">
<rect class="card" x="2015.7" y="490" width="47.5" height="257.3" rx="2"/>
<text class="th" transform="translate(2018,498.3) scale(.78,1)"><tspan x="0">Gather</tspan><tspan x="0" dy="8.57">information</tspan><tspan x="0" dy="8.57">on employee</tspan><tspan x="0" dy="8.57">performance</tspan></text>
<rect class="wb" x="2017.4" y="539.3" width="44.1" height="19"/><text class="wt" transform="translate(2023,545.6) scale(.82,1)"><tspan x="0">Keep an eye on</tspan><tspan x="0" dy="5.8">employee work</tspan></text><use href="#tp" x="2017.4" y="558.3"/>
<rect class="wp" x="2017.4" y="560" width="44.1" height="31.7"/><text class="wt" transform="translate(2023,566.3) scale(.82,1)"><tspan x="0">Check in with</tspan><tspan x="0" dy="5.8">employees oc-</tspan><tspan x="0" dy="5.8">casionally, don’t</tspan><tspan x="0" dy="5.8">micromanage</tspan></text><use href="#tp" x="2017.4" y="591.7"/>
<rect class="wp" x="2017.4" y="593.3" width="44.1" height="31"/><text class="wt" transform="translate(2023,599.6) scale(.82,1)"><tspan x="0">Collect coworker</tspan><tspan x="0" dy="5.8">feedback on</tspan><tspan x="0" dy="5.8">an employee’s</tspan><tspan x="0" dy="5.8">performance</tspan></text><use href="#tp" x="2017.4" y="624.3"/>
<rect class="wp" x="2017.4" y="626" width="44.1" height="26.7"/><text class="wt" transform="translate(2023,632.3) scale(.82,1)"><tspan x="0">Conduct an an-</tspan><tspan x="0" dy="5.8">nual performance</tspan><tspan x="0" dy="5.8">evaluation</tspan></text><use href="#tp" x="2017.4" y="652.7"/>
<rect class="we" x="2017.4" y="654.3" width="44.1" height="19"/><text class="wt" transform="translate(2023,660.6) scale(.82,1)"><tspan x="0">Evaluate talents,</tspan><tspan x="0" dy="5.8">not disabilities</tspan></text><use href="#tg" x="2061.5" y="654.3"/>
<rect class="wp" x="2017.4" y="675" width="44.1" height="36.7"/><text class="wt" transform="translate(2023,681.3) scale(.82,1)"><tspan x="0">Revise my</tspan><tspan x="0" dy="5.8">employees’ posi-</tspan><tspan x="0" dy="5.8">tion descriptions</tspan><tspan x="0" dy="5.8">when their tasks</tspan><tspan x="0" dy="5.8">change</tspan></text><use href="#tb" x="2061.5" y="711.7"/>
<rect class="wp" x="2017.4" y="713.3" width="44.1" height="31.7"/><text class="wt" transform="translate(2023,719.6) scale(.82,1)"><tspan x="0">Feel impressed by</tspan><tspan x="0" dy="5.8">the performance</tspan><tspan x="0" dy="5.8">of an employee</tspan><tspan x="0" dy="5.8">with a disability</tspan></text>
</g>

<g id="tower-m02">
<rect class="card" x="2068.3" y="605.7" width="47.5" height="141.6" rx="2"/>
<text class="th" transform="translate(2070.6,614) scale(.78,1)"><tspan x="0">Notice an</tspan><tspan x="0" dy="8.57">employee</tspan><tspan x="0" dy="8.57">is having a</tspan><tspan x="0" dy="8.57">problem</tspan></text>
<rect class="we" x="2070" y="653.3" width="44.1" height="36"/><text class="wt" transform="translate(2075.6,659.6) scale(.82,1)"><tspan x="0">Notice a new</tspan><tspan x="0" dy="5.8">employee is</tspan><tspan x="0" dy="5.8">struggling with</tspan><tspan x="0" dy="5.8">some aspect of</tspan><tspan x="0" dy="5.8">their job</tspan></text><use href="#tp" x="2070" y="689.3"/>
<rect class="wb" x="2070" y="690.7" width="44.1" height="26"/><text class="wt" transform="translate(2075.6,697) scale(.82,1)"><tspan x="0">Observe a change</tspan><tspan x="0" dy="5.8">in employee</tspan><tspan x="0" dy="5.8">performance</tspan></text>
<rect class="wp" x="2070" y="718.3" width="44.1" height="26.7"/><text class="wt" transform="translate(2075.6,724.6) scale(.82,1)"><tspan x="0">Notice an</tspan><tspan x="0" dy="5.8">employee is in</tspan><tspan x="0" dy="5.8">chronic pain</tspan></text><use href="#tp" x="2070" y="745"/>
</g>

<!-- CAPABILITIES -->
<g id="capabilities">
<rect class="cb r" x="110.6" y="779.3" width="43.3" height="11.3"/><text class="ct" transform="translate(115.6,786.9) scale(.82,1)">WOTC</text>
<rect class="cb b" x="110.6" y="793.3" width="43.3" height="11"/><text class="ct" transform="translate(115.6,800.8) scale(.82,1)">Hiring Incentives</text>
<rect class="cb b d" x="110.6" y="806.7" width="43.3" height="11.3"/><text class="ct" transform="translate(115.6,814.3) scale(.82,1)">Internships</text>
<rect class="cb b d" x="110.6" y="820.7" width="43.3" height="11.3"/><text class="ct" transform="translate(115.6,828.3) scale(.82,1)">Aging Workforce</text>

<rect class="cb b" x="163" y="779.3" width="43.3" height="16.7"/><text class="ct" transform="translate(168,785.6) scale(.82,1)"><tspan x="0">Schedule A</tspan><tspan x="0" dy="5.8">hiring</tspan></text>
<rect class="cb g" x="163" y="798.7" width="43.3" height="16.7"/><text class="ct" transform="translate(168,805) scale(.82,1)"><tspan x="0">Veterans hiring</tspan><tspan x="0" dy="5.8">preference</tspan></text>
<rect class="cb pu" x="163" y="817.7" width="43.3" height="11.3"/><text class="ct" transform="translate(168,825.3) scale(.82,1)">Schedule A</text>

<rect class="cb b" x="215.4" y="779.3" width="43.3" height="11.3"/><text class="ct" transform="translate(220.4,786.9) scale(.82,1)">Veterans: FAQs</text>
<rect class="cb b" x="215.4" y="793.3" width="43.3" height="11"/><text class="ct" transform="translate(220.4,800.8) scale(.82,1)">Veterans</text>
<rect class="cb g" x="215.4" y="806.7" width="43.3" height="41.3"/><text class="ct" transform="translate(220.4,813) scale(.82,1)"><tspan x="0">Diversity in</tspan><tspan x="0" dy="5.8">the Federal</tspan><tspan x="0" dy="5.8">Workforce:</tspan><tspan x="0" dy="5.8">Employing</tspan><tspan x="0" dy="5.8">Individuals with</tspan><tspan x="0" dy="5.8">Disabilities</tspan></text>
<rect class="cb g" x="215.4" y="850.7" width="43.3" height="41"/><text class="ct" transform="translate(220.4,857) scale(.82,1)"><tspan x="0">Disability IS</tspan><tspan x="0" dy="5.8">Diversity:</tspan><tspan x="0" dy="5.8">Effective Hiring</tspan><tspan x="0" dy="5.8">Practices</tspan><tspan x="0" dy="5.8">for Federal</tspan><tspan x="0" dy="5.8">Employers</tspan></text>
<rect class="cb r d" x="215.4" y="894.3" width="43.3" height="23"/><text class="ct" transform="translate(220.4,900.6) scale(.82,1)"><tspan x="0">Veterans</tspan><tspan x="0" dy="5.8">Employer</tspan><tspan x="0" dy="5.8">Preparedness</tspan></text>
<rect class="cb r d" x="215.4" y="920.3" width="43.3" height="16.3"/><text class="ct" transform="translate(220.4,926.6) scale(.82,1)"><tspan x="0">Welcoming</tspan><tspan x="0" dy="5.8">Veterans Back</tspan></text>
<rect class="cb o d" x="215.4" y="939.3" width="43.3" height="23.3"/><text class="ct" transform="translate(220.4,945.6) scale(.82,1)"><tspan x="0">Business Case</tspan><tspan x="0" dy="5.8">for Hiring</tspan><tspan x="0" dy="5.8">Veterans</tspan></text>
<rect class="cb o d" x="215.4" y="965.3" width="43.3" height="11.3"/><text class="ct" transform="translate(220.4,972.9) scale(.82,1)">Aging Workforce</text>
<rect class="cb g d" x="215.4" y="978.7" width="43.3" height="36.3"/><text class="ct" transform="translate(220.4,985) scale(.82,1)"><tspan x="0">Business</tspan><tspan x="0" dy="5.8">Strategies that</tspan><tspan x="0" dy="5.8">Work: Employing</tspan><tspan x="0" dy="5.8">People with</tspan><tspan x="0" dy="5.8">Disabilities</tspan></text>
<rect class="cb g d" x="215.4" y="1017.3" width="43.3" height="23.3"/><text class="ct" transform="translate(220.4,1023.6) scale(.82,1)"><tspan x="0">Business Case</tspan><tspan x="0" dy="5.8">for Hiring People</tspan><tspan x="0" dy="5.8">with Disabilities</tspan></text>
<rect class="cb g d" x="215.4" y="1043.3" width="43.3" height="28.3"/><text class="ct" transform="translate(220.4,1049.6) scale(.82,1)"><tspan x="0">Diversity</tspan><tspan x="0" dy="5.8">Promotes</tspan><tspan x="0" dy="5.8">Competitive</tspan><tspan x="0" dy="5.8">Advantage</tspan></text>
<rect class="cb b d" x="215.4" y="1074.3" width="43.3" height="23"/><text class="ct" transform="translate(220.4,1080.6) scale(.82,1)"><tspan x="0">Business Case</tspan><tspan x="0" dy="5.8">for Hiring People</tspan><tspan x="0" dy="5.8">with Disabilities</tspan></text>
<rect class="cb b d" x="215.4" y="1100" width="43.3" height="16.7"/><text class="ct" transform="translate(220.4,1106.3) scale(.82,1)"><tspan x="0">Federal</tspan><tspan x="0" dy="5.8">contractor hiring</tspan></text>
<rect class="cb b d" x="215.4" y="1119" width="43.3" height="17"/><text class="ct" transform="translate(220.4,1125.3) scale(.82,1)"><tspan x="0">Affirmative</tspan><tspan x="0" dy="5.8">action</tspan></text>
<rect class="cb o d" x="215.4" y="1138.3" width="43.3" height="24"/><text class="ct" transform="translate(220.4,1144.6) scale(.82,1)"><tspan x="0">From Legal</tspan><tspan x="0" dy="5.8">Compliance to</tspan><tspan x="0" dy="5.8">Best Practices</tspan></text>

<rect class="cb b" x="267.8" y="779.3" width="43.3" height="11.3"/><text class="ct" transform="translate(272.8,786.9) scale(.82,1)">Job posting</text>
<rect class="cb b" x="267.8" y="793.3" width="43.3" height="11"/><text class="ct" transform="translate(272.8,800.8) scale(.82,1)">Sourcing</text>
<rect class="cb b" x="267.8" y="806.7" width="43.3" height="23.3"/><text class="ct" transform="translate(272.8,813) scale(.82,1)"><tspan x="0">Workforce</tspan><tspan x="0" dy="5.8">Recruitment</tspan><tspan x="0" dy="5.8">Program</tspan></text>
<rect class="cb b" x="267.8" y="832.7" width="43.3" height="23.3"/><text class="ct" transform="translate(272.8,839) scale(.82,1)"><tspan x="0">Recruiting</tspan><tspan x="0" dy="5.8">people with</tspan><tspan x="0" dy="5.8">disabilities</tspan></text>
<rect class="cb pk" x="267.8" y="858.7" width="43.3" height="23.3"/><text class="ct" transform="translate(272.8,865) scale(.82,1)"><tspan x="0">E-mail template:</tspan><tspan x="0" dy="5.8">Job posting</tspan><tspan x="0" dy="5.8">resources</tspan></text>
<rect class="cb pk" x="267.8" y="884.3" width="43.3" height="24"/><text class="ct" transform="translate(272.8,890.6) scale(.82,1)"><tspan x="0">E-mail template:</tspan><tspan x="0" dy="5.8">General</tspan><tspan x="0" dy="5.8">recruitment</tspan></text>
<rect class="cb g" x="267.8" y="910.7" width="43.3" height="16.7"/><text class="ct" transform="translate(272.8,917) scale(.82,1)"><tspan x="0">Tips for</tspan><tspan x="0" dy="5.8">Recruiting</tspan></text>
<rect class="cb r gr" x="267.8" y="930" width="43.3" height="11.3"/><text class="ct" transform="translate(272.8,937.6) scale(.82,1)">About WRP</text>
<rect class="cb g d gr" x="267.8" y="943.7" width="43.3" height="11.3"/><text class="ct" transform="translate(272.8,951.3) scale(.82,1)">WRP Fact Sheet</text>
<rect class="cb pu d gr" x="267.8" y="957.3" width="43.3" height="11.3"/><text class="ct" transform="translate(272.8,964.9) scale(.82,1)">WRP</text>

<rect class="cb b" x="320.2" y="779.3" width="43.3" height="16.7"/><text class="ct" transform="translate(325.2,785.6) scale(.82,1)"><tspan x="0">WRP Candidate</tspan><tspan x="0" dy="5.8">Request Form</tspan></text>
<rect class="cb b d" x="320.2" y="798.7" width="43.3" height="16.7"/><text class="ct" transform="translate(325.2,805) scale(.82,1)"><tspan x="0">Americans with</tspan><tspan x="0" dy="5.8">Disabilities Act</tspan></text>

<rect class="cb pk" x="530" y="779.3" width="43.3" height="23.3"/><text class="ct" transform="translate(535,785.6) scale(.82,1)"><tspan x="0">E-mail template:</tspan><tspan x="0" dy="5.8">General</tspan><tspan x="0" dy="5.8">recruitment</tspan></text>
<rect class="cb r" x="530" y="805.7" width="43.3" height="16.7"/><text class="ct" transform="translate(535,812) scale(.82,1)"><tspan x="0">Forming</tspan><tspan x="0" dy="5.8">Linkages</tspan></text>
<rect class="cb r d gr" x="530" y="824.7" width="43.3" height="11.3"/><text class="ct" transform="translate(535,832.3) scale(.82,1)">About EARN</text>
<rect class="cb g d gr" x="530" y="838.7" width="43.3" height="11.3"/><text class="ct" transform="translate(535,846.3) scale(.82,1)">EARN Flyer</text>

<rect class="cb r" x="582.4" y="779.3" width="43.3" height="16.7"/><text class="ct" transform="translate(587.4,785.6) scale(.82,1)"><tspan x="0">Forming</tspan><tspan x="0" dy="5.8">Linkages</tspan></text>
<rect class="cb g d gr" x="582.4" y="798.7" width="43.3" height="11.3"/><text class="ct" transform="translate(587.4,806.3) scale(.82,1)">EARN Flyer</text>

<rect class="cb o" x="978" y="779.3" width="43.5" height="23.3"/><text class="ct" transform="translate(983,785.6) scale(.82,1)"><tspan x="0">Disability</tspan><tspan x="0" dy="5.8">Etiquette &amp;</tspan><tspan x="0" dy="5.8">Awareness</tspan></text>
<rect class="cb b" x="978" y="805.7" width="43.5" height="11"/><text class="ct" transform="translate(983,813.2) scale(.82,1)">Interviewing</text>
<rect class="cb b" x="1031" y="779.3" width="43.5" height="11.3"/><text class="ct" transform="translate(1036,786.9) scale(.82,1)">Interviewing</text>
<rect class="cb b d" x="1031" y="793" width="43.5" height="17"/><text class="ct" transform="translate(1036,799.3) scale(.82,1)"><tspan x="0">Americans with</tspan><tspan x="0" dy="5.8">Disabilities Act</tspan></text>
<rect class="cb b" x="1426" y="779.3" width="43.5" height="16.7"/><text class="ct" transform="translate(1431,785.6) scale(.82,1)"><tspan x="0">Americans with</tspan><tspan x="0" dy="5.8">Disabilities Act</tspan></text>
<rect class="cb r d" x="1530" y="779.3" width="43.5" height="12"/><text class="ct" transform="translate(1535,787.2) scale(.82,1)">Disclosure</text>

<rect class="cb b" x="1726" y="779.3" width="44" height="11.3"/><text class="ct" transform="translate(1731,786.9) scale(.82,1)">Mentoring</text>
<rect class="cb g" x="1726" y="793.3" width="44" height="40"/><text class="ct" transform="translate(1731,799.6) scale(.82,1)"><tspan x="0">Professional</tspan><tspan x="0" dy="5.8">Development</tspan><tspan x="0" dy="5.8">and</tspan><tspan x="0" dy="5.8">Advancement for</tspan><tspan x="0" dy="5.8">Employees with</tspan><tspan x="0" dy="5.8">Disabilities</tspan></text>
<rect class="cb b" x="1779" y="779.3" width="44" height="16.7"/><text class="ct" transform="translate(1784,785.6) scale(.82,1)"><tspan x="0">Employee</tspan><tspan x="0" dy="5.8">Resource Groups</tspan></text>
<rect class="cb o" x="1779" y="798.7" width="44" height="23.3"/><text class="ct" transform="translate(1784,805) scale(.82,1)"><tspan x="0">Establishing and</tspan><tspan x="0" dy="5.8">Maintaining</tspan><tspan x="0" dy="5.8">ERGs</tspan></text>
<rect class="cb g" x="1779" y="824.3" width="44" height="29"/><text class="ct" transform="translate(1784,830.6) scale(.82,1)"><tspan x="0">Roadmap for</tspan><tspan x="0" dy="5.8">Developing ERGs</tspan><tspan x="0" dy="5.8">in the Federal</tspan><tspan x="0" dy="5.8">Government</tspan></text>
<rect class="cb o" x="1831" y="779.3" width="44" height="11.3"/><text class="ct" transform="translate(1836,786.9) scale(.82,1)">ADA/FMLA</text>
<rect class="cb o" x="1831" y="793.3" width="44" height="16.7"/><text class="ct" transform="translate(1836,799.6) scale(.82,1)"><tspan x="0">Disability IS</tspan><tspan x="0" dy="5.8">Diversity</tspan></text>
<rect class="cb o" x="1831" y="812.3" width="44" height="23.3"/><text class="ct" transform="translate(1836,818.6) scale(.82,1)"><tspan x="0">Disability</tspan><tspan x="0" dy="5.8">Etiquette &amp;</tspan><tspan x="0" dy="5.8">Awareness</tspan></text>
<rect class="cb g d" x="1831" y="838.3" width="44" height="36.7"/><text class="ct" transform="translate(1836,844.6) scale(.82,1)"><tspan x="0">Implementing</tspan><tspan x="0" dy="5.8">Inclusive</tspan><tspan x="0" dy="5.8">Employment</tspan><tspan x="0" dy="5.8">Policies and</tspan><tspan x="0" dy="5.8">Practices</tspan></text>
<rect class="cb b d" x="1831" y="876.7" width="44" height="16.7"/><text class="ct" transform="translate(1836,883) scale(.82,1)"><tspan x="0">Americans with</tspan><tspan x="0" dy="5.8">Disabilities Act</tspan></text>
<rect class="cb b d" x="1831" y="895" width="44" height="17.3"/><text class="ct" transform="translate(1836,901.3) scale(.82,1)"><tspan x="0">Disability</tspan><tspan x="0" dy="5.8">Prevalence</tspan></text>
<rect class="cb b d" x="1831" y="914" width="44" height="17.7"/><text class="ct" transform="translate(1836,920.3) scale(.82,1)"><tspan x="0">Diversity and</tspan><tspan x="0" dy="5.8">Inclusion</tspan></text>
<rect class="cb r d" x="1831" y="933.3" width="44" height="17.3"/><text class="ct" transform="translate(1836,939.6) scale(.82,1)"><tspan x="0">EEOC Regs on</tspan><tspan x="0" dy="5.8">ADA/AA</tspan></text>
<rect class="cb g" x="1883" y="779.3" width="44" height="29"/><text class="ct" transform="translate(1888,785.6) scale(.82,1)"><tspan x="0">Employing</tspan><tspan x="0" dy="5.8">People with</tspan><tspan x="0" dy="5.8">Disabilities:</tspan><tspan x="0" dy="5.8">Myths and Facts</tspan></text>
<rect class="cb b" x="1883" y="811" width="44" height="17.3"/><text class="ct" transform="translate(1888,817.3) scale(.82,1)"><tspan x="0">Disability</tspan><tspan x="0" dy="5.8">Etiquette</tspan></text>
<rect class="cb b" x="1883" y="830" width="44" height="11.7"/><text class="ct" transform="translate(1888,837.8) scale(.82,1)">Success Stories</text>
<rect class="cb o" x="1883" y="844" width="44" height="16.7"/><text class="ct" transform="translate(1888,850.3) scale(.82,1)"><tspan x="0">Disability IS</tspan><tspan x="0" dy="5.8">Diversity</tspan></text>
<rect class="cb pu" x="1883" y="863.3" width="44" height="11.3"/><text class="ct" transform="translate(1888,870.9) scale(.82,1)">eFedLink Groups</text>
<rect class="cb g d" x="1883" y="876.7" width="44" height="36"/><text class="ct" transform="translate(1888,883) scale(.82,1)"><tspan x="0">Implementing</tspan><tspan x="0" dy="5.8">Inclusive</tspan><tspan x="0" dy="5.8">Employment</tspan><tspan x="0" dy="5.8">Policies and</tspan><tspan x="0" dy="5.8">Practices</tspan></text>
<rect class="cb g d" x="1883" y="915" width="44" height="23.3"/><text class="ct" transform="translate(1888,921.3) scale(.82,1)"><tspan x="0">Non-Visible</tspan><tspan x="0" dy="5.8">Disabilities in</tspan><tspan x="0" dy="5.8">the Workplace</tspan></text>
<rect class="cb g d" x="1883" y="940.7" width="44" height="12"/><text class="ct" transform="translate(1888,948.6) scale(.82,1)">Disability Trivia</text>
<rect class="cb b d" x="1883" y="955" width="44" height="17"/><text class="ct" transform="translate(1888,961.3) scale(.82,1)"><tspan x="0">Diversity and</tspan><tspan x="0" dy="5.8">Inclusion</tspan></text>
<rect class="cb b d" x="1936" y="779.3" width="44" height="16.7"/><text class="ct" transform="translate(1941,785.6) scale(.82,1)"><tspan x="0">Disability</tspan><tspan x="0" dy="5.8">Etiquette</tspan></text>
</g>
</g>

<g id="annotations">
<path class="brace" d="M98,137 C98,120 106,113 125,113 L1270,113 C1295,113 1303,105 1308,88 C1313,105 1321,113 1346,113 L1645,113 C1664,113 1671,120 1671,137"/>
<path class="brace" d="M1264,195 C1264,181 1272,174 1290,174 L1440,174 C1460,174 1468,168 1473,153 C1478,168 1486,174 1506,174 L1660,174 C1677,174 1683,181 1683,195"/>
<path class="brace" d="M1580,777 C1594,779 1599,786 1599,800 L1599,958 C1599,970 1603,975 1610,977 C1603,979 1599,984 1599,996 L1599,1152 C1599,1166 1594,1173 1580,1176"/>
</g>

<g id="callout-window">
<rect x="960" y="249" width="269" height="178" fill="#FBF4EE"/>
<text class="cob" x="981" y="289">window</text>
<text class="co" x="981" y="320">a summary of an:</text>
<text class="co" x="981" y="350">- inner thought</text>
<text class="co" x="981" y="379">- emotional reaction</text>
<text class="co" x="981" y="409">- personal rule</text>
</g>
<g id="callout-towers">
<rect x="1429" y="299" width="252" height="148" fill="#FBF4EE"/>
<text class="cob" x="1449" y="337">towers</text>
<text class="co" x="1449" y="368">windows grouped</text>
<text class="co" x="1449" y="398">by people’s focus</text>
<text class="co" x="1449" y="428">of mental attention</text>
</g>
<g id="callout-capabilities">
<rect x="1637" y="965" width="212" height="147" fill="#FBF4EE"/>
<text class="co" x="1658" y="998">an org’s</text>
<text class="cob" x="1658" y="1034">capabilities</text>
<text class="co" x="1658" y="1067">components of</text>
<text class="co" x="1658" y="1097">solutions</text>
</g>

<g id="connectors">
<path class="arr" d="M1093,427 L1068,618"/>
<path class="arr" d="M1555,447 L1297,643"/>
<path class="arr" d="M1555,447 L1343,630"/>
<path class="arr" d="M1555,447 L1412,611"/>
<path class="arr" d="M1555,447 L1458,604"/>
<path class="arr" d="M1555,447 L1498,593"/>
<path class="arr" d="M1555,447 L1548,521"/>
<path class="arr" d="M1555,447 L1598,597"/>
<path class="arr" d="M1555,447 L1643,606"/>
</g>

<g id="chart">
<path class="gl" d="M117,1218 L1618,1220"/>
<path class="gl" d="M117,1249 L1618,1251"/>
<path class="hl" d="M117,1316.7 L1618,1318.7"/>
<path class="hl" d="M117,1351 L1618,1353"/>
<path class="hl" d="M117,1385 L1618,1387"/>
<path class="hl" d="M117,1419 L1618,1421"/>
<text class="lab" x="1637" y="1226">strong support</text>
<text class="lab" x="1637" y="1257">mild support</text>
<text class="lab" x="1637" y="1325">mild harm</text>
<text class="lab" x="1637" y="1358">serious harm</text>
<text class="lab" x="1637" y="1392">lasting harm</text>
<text class="lab" x="1637" y="1426">systemic harm</text>
<polyline fill="none" stroke="#4B9A2C" stroke-width="2.5" points="133,1218.3 190.4,1218.3 239.2,1218.3 290.2,1249 347.6,1249 555.8,1218.3 601.3,1218.3 1009,1250 1060,1219 1176,1219 1450,1219 1553,1219"/>
<g fill="#4B9A2C">
<circle cx="133" cy="1218.3" r="8"/><circle cx="190.4" cy="1218.3" r="8"/><circle cx="239.2" cy="1218.3" r="8"/><circle cx="290.2" cy="1249" r="8"/><circle cx="347.6" cy="1249" r="8"/><circle cx="555.8" cy="1218.3" r="8"/><circle cx="601.3" cy="1218.3" r="8"/><circle cx="1009" cy="1250" r="8"/><circle cx="1060" cy="1219" r="8"/><circle cx="1176" cy="1219" r="8"/><circle cx="1450" cy="1219" r="8"/><circle cx="1553" cy="1219" r="8"/>
</g>
<polyline fill="none" stroke="#6A51A8" stroke-width="2" points="117,1217.3 192.6,1229.3 239.2,1316.7 290.2,1351.7 347.6,1385 555.8,1248.3 601.3,1248.3 995,1249.3 1047,1220 1160,1220 1453.5,1250 1553,1316.7"/>
<use href="#dm" x="117" y="1217.3"/><use href="#dm" x="192.6" y="1229.3"/><use href="#dm" x="239.2" y="1316.7"/><use href="#dm" x="290.2" y="1351.7"/><use href="#dm" x="347.6" y="1385"/><use href="#dm" x="555.8" y="1248.3"/><use href="#dm" x="601.3" y="1248.3"/><use href="#dm" x="995" y="1249.3"/><use href="#dm" x="1047" y="1220"/><use href="#dm" x="1160" y="1220"/><use href="#dm" x="1453.5" y="1250"/><use href="#dm" x="1553" y="1316.7"/>
</g>

<g id="legend">
<rect x="1809" y="1243" width="308" height="162" fill="#fff" stroke="#999" stroke-width="1.5"/>
<text class="leg" x="1826" y="1278">Value of capabilities to</text>
<text class="leg" x="1826" y="1310">people by thinking style:</text>
<circle cx="1834" cy="1350" r="8" fill="#4B9A2C"/>
<text class="leg" x="1854" y="1359">Proactive Investment</text>
<use href="#dm" x="1834" y="1381"/>
<text class="leg" x="1854" y="1390">Reactive Implementer</text>
</g>
</svg>
